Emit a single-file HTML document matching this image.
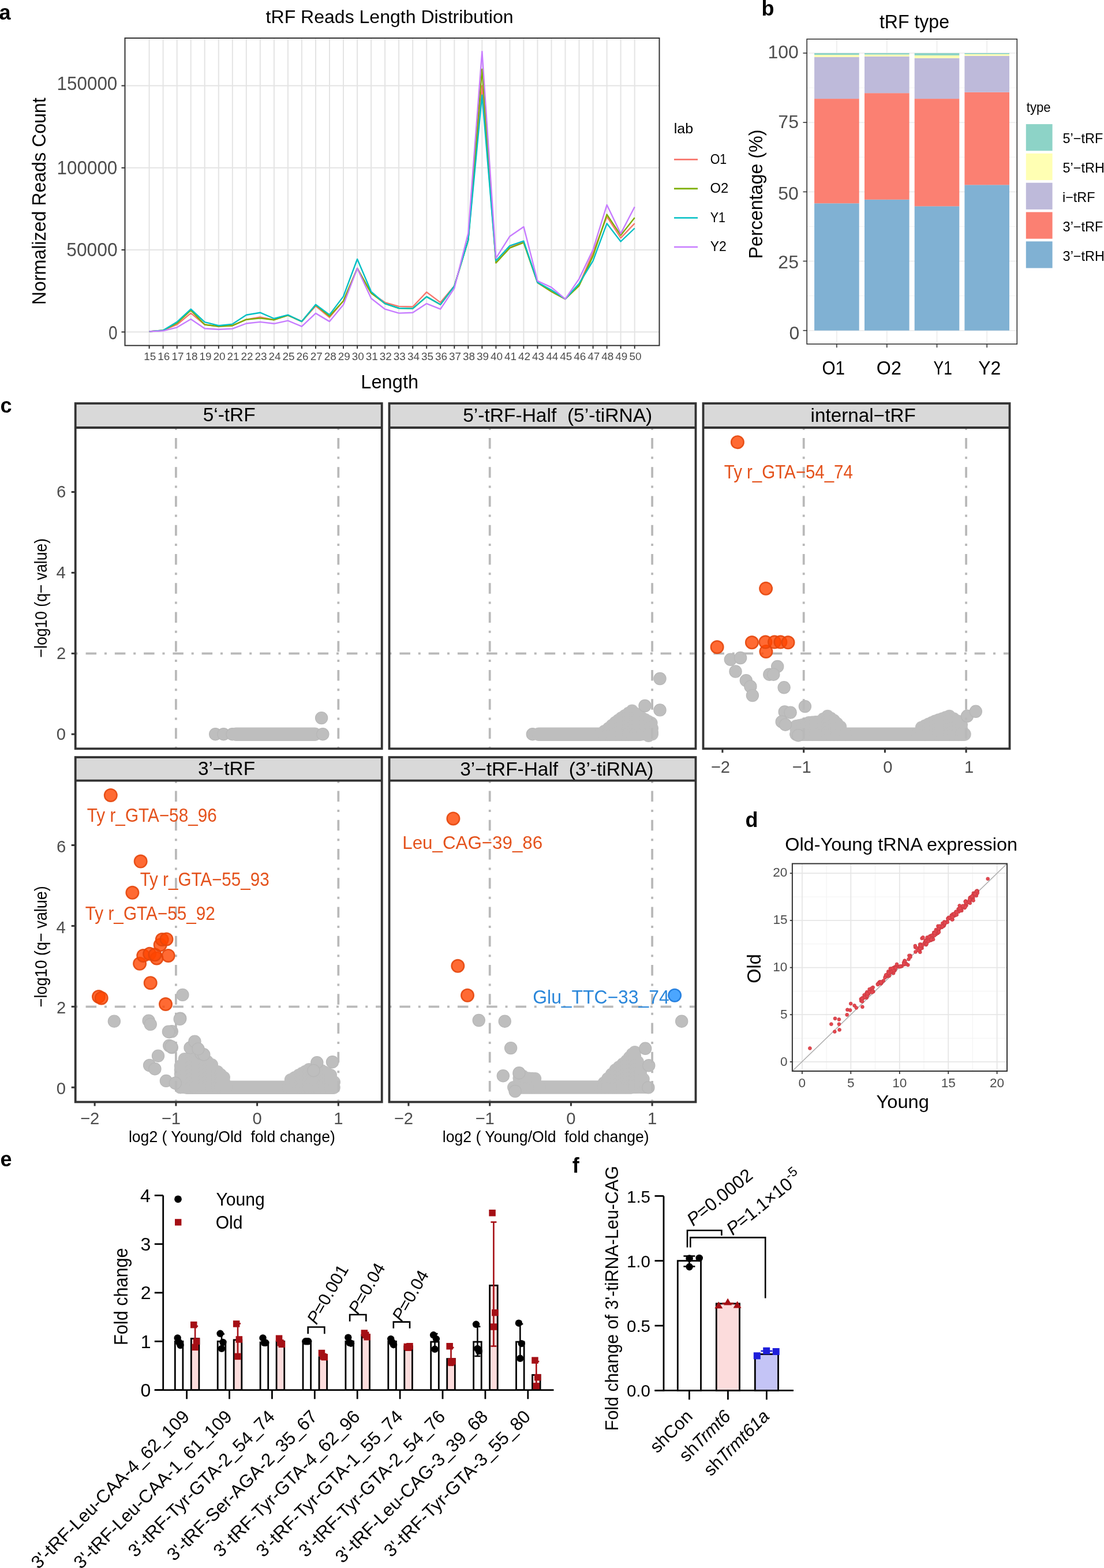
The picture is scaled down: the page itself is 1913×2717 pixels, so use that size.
<!DOCTYPE html>
<html><head><meta charset="utf-8"><title>tRF figure</title>
<style>html,body{margin:0;padding:0;background:#fff;}svg{display:block;}
text{font-family:'Liberation Sans', Arial, Helvetica, sans-serif;white-space:pre;}</style></head>
<body><svg width="1913" height="2717" viewBox="0 0 1913 2717">
<rect width="1913" height="2717" fill="#fff"/>
<g id="pa">
<text x="-1.5" y="33.5" font-size="36" font-weight="bold" >a</text>
<text x="460.62" y="40.10" font-size="31.70" textLength="428.96" lengthAdjust="spacingAndGlyphs">tRF Reads Length Distribution</text>
<line x1="216.5" y1="575.3" x2="1142.5" y2="575.3" stroke="#E4E4E4" stroke-width="2" />
<line x1="216.5" y1="433.0" x2="1142.5" y2="433.0" stroke="#E4E4E4" stroke-width="2" />
<line x1="216.5" y1="290.8" x2="1142.5" y2="290.8" stroke="#E4E4E4" stroke-width="2" />
<line x1="216.5" y1="148.5" x2="1142.5" y2="148.5" stroke="#E4E4E4" stroke-width="2" />
<line x1="258.6" y1="66.0" x2="258.6" y2="598.7" stroke="#E4E4E4" stroke-width="2" />
<line x1="282.6" y1="66.0" x2="282.6" y2="598.7" stroke="#E4E4E4" stroke-width="2" />
<line x1="306.7" y1="66.0" x2="306.7" y2="598.7" stroke="#E4E4E4" stroke-width="2" />
<line x1="330.7" y1="66.0" x2="330.7" y2="598.7" stroke="#E4E4E4" stroke-width="2" />
<line x1="354.7" y1="66.0" x2="354.7" y2="598.7" stroke="#E4E4E4" stroke-width="2" />
<line x1="378.8" y1="66.0" x2="378.8" y2="598.7" stroke="#E4E4E4" stroke-width="2" />
<line x1="402.8" y1="66.0" x2="402.8" y2="598.7" stroke="#E4E4E4" stroke-width="2" />
<line x1="426.8" y1="66.0" x2="426.8" y2="598.7" stroke="#E4E4E4" stroke-width="2" />
<line x1="450.8" y1="66.0" x2="450.8" y2="598.7" stroke="#E4E4E4" stroke-width="2" />
<line x1="474.9" y1="66.0" x2="474.9" y2="598.7" stroke="#E4E4E4" stroke-width="2" />
<line x1="498.9" y1="66.0" x2="498.9" y2="598.7" stroke="#E4E4E4" stroke-width="2" />
<line x1="522.9" y1="66.0" x2="522.9" y2="598.7" stroke="#E4E4E4" stroke-width="2" />
<line x1="547.0" y1="66.0" x2="547.0" y2="598.7" stroke="#E4E4E4" stroke-width="2" />
<line x1="571.0" y1="66.0" x2="571.0" y2="598.7" stroke="#E4E4E4" stroke-width="2" />
<line x1="595.0" y1="66.0" x2="595.0" y2="598.7" stroke="#E4E4E4" stroke-width="2" />
<line x1="619.1" y1="66.0" x2="619.1" y2="598.7" stroke="#E4E4E4" stroke-width="2" />
<line x1="643.1" y1="66.0" x2="643.1" y2="598.7" stroke="#E4E4E4" stroke-width="2" />
<line x1="667.1" y1="66.0" x2="667.1" y2="598.7" stroke="#E4E4E4" stroke-width="2" />
<line x1="691.1" y1="66.0" x2="691.1" y2="598.7" stroke="#E4E4E4" stroke-width="2" />
<line x1="715.2" y1="66.0" x2="715.2" y2="598.7" stroke="#E4E4E4" stroke-width="2" />
<line x1="739.2" y1="66.0" x2="739.2" y2="598.7" stroke="#E4E4E4" stroke-width="2" />
<line x1="763.2" y1="66.0" x2="763.2" y2="598.7" stroke="#E4E4E4" stroke-width="2" />
<line x1="787.3" y1="66.0" x2="787.3" y2="598.7" stroke="#E4E4E4" stroke-width="2" />
<line x1="811.3" y1="66.0" x2="811.3" y2="598.7" stroke="#E4E4E4" stroke-width="2" />
<line x1="835.3" y1="66.0" x2="835.3" y2="598.7" stroke="#E4E4E4" stroke-width="2" />
<line x1="859.4" y1="66.0" x2="859.4" y2="598.7" stroke="#E4E4E4" stroke-width="2" />
<line x1="883.4" y1="66.0" x2="883.4" y2="598.7" stroke="#E4E4E4" stroke-width="2" />
<line x1="907.4" y1="66.0" x2="907.4" y2="598.7" stroke="#E4E4E4" stroke-width="2" />
<line x1="931.4" y1="66.0" x2="931.4" y2="598.7" stroke="#E4E4E4" stroke-width="2" />
<line x1="955.5" y1="66.0" x2="955.5" y2="598.7" stroke="#E4E4E4" stroke-width="2" />
<line x1="979.5" y1="66.0" x2="979.5" y2="598.7" stroke="#E4E4E4" stroke-width="2" />
<line x1="1003.5" y1="66.0" x2="1003.5" y2="598.7" stroke="#E4E4E4" stroke-width="2" />
<line x1="1027.6" y1="66.0" x2="1027.6" y2="598.7" stroke="#E4E4E4" stroke-width="2" />
<line x1="1051.6" y1="66.0" x2="1051.6" y2="598.7" stroke="#E4E4E4" stroke-width="2" />
<line x1="1075.6" y1="66.0" x2="1075.6" y2="598.7" stroke="#E4E4E4" stroke-width="2" />
<line x1="1099.7" y1="66.0" x2="1099.7" y2="598.7" stroke="#E4E4E4" stroke-width="2" />
<polyline points="258.6,574.4 282.6,572.5 306.7,562.5 330.7,542.6 354.7,562.5 378.8,565.6 402.8,564.2 426.8,553.7 450.8,549.4 474.9,554.2 498.9,546.3 522.9,557.1 547.0,530.3 571.0,550.0 595.0,521.5 619.1,464.9 643.1,507.9 667.1,524.1 691.1,530.9 715.2,531.5 739.2,506.2 763.2,524.1 787.3,495.6 811.3,416.0 835.3,148.5 859.4,455.5 883.4,428.5 907.4,419.1 931.4,489.7 955.5,505.3 979.5,518.1 1003.5,493.4 1027.6,437.9 1051.6,375.3 1075.6,412.3 1099.7,387.2" fill="none" stroke="#F8766D" stroke-width="2.4" stroke-linejoin="round" />
<polyline points="258.6,574.4 282.6,572.5 306.7,559.9 330.7,537.7 354.7,562.5 378.8,565.6 402.8,564.2 426.8,553.7 450.8,551.4 474.9,554.2 498.9,546.3 522.9,557.1 547.0,528.4 571.0,547.7 595.0,521.5 619.1,464.9 643.1,507.9 667.1,526.1 691.1,534.0 715.2,534.6 739.2,514.1 763.2,527.8 787.3,495.6 811.3,416.0 835.3,120.0 859.4,455.5 883.4,429.6 907.4,420.5 931.4,489.7 955.5,505.3 979.5,518.1 1003.5,495.1 1027.6,443.6 1051.6,371.6 1075.6,407.7 1099.7,377.3" fill="none" stroke="#7CAE00" stroke-width="2.4" stroke-linejoin="round" />
<polyline points="258.6,574.4 282.6,572.5 306.7,557.9 330.7,535.7 354.7,558.2 378.8,564.2 402.8,561.6 426.8,545.7 450.8,541.7 474.9,552.0 498.9,545.7 522.9,557.1 547.0,527.8 571.0,545.4 595.0,513.6 619.1,449.0 643.1,505.3 667.1,526.1 691.1,534.0 715.2,534.6 739.2,514.1 763.2,527.8 787.3,495.6 811.3,416.0 835.3,164.7 859.4,451.8 883.4,425.9 907.4,417.7 931.4,489.4 955.5,502.5 979.5,518.1 1003.5,491.4 1027.6,451.8 1051.6,387.2 1075.6,418.5 1099.7,395.5" fill="none" stroke="#00BFC4" stroke-width="2.4" stroke-linejoin="round" />
<polyline points="258.6,574.4 282.6,573.3 306.7,567.3 330.7,553.0 354.7,569.3 378.8,570.7 402.8,569.6 426.8,560.5 450.8,557.9 474.9,560.8 498.9,555.7 522.9,565.6 547.0,542.9 571.0,557.1 595.0,528.1 619.1,464.9 643.1,517.0 667.1,535.7 691.1,542.6 715.2,541.7 739.2,526.1 763.2,535.7 787.3,499.3 811.3,404.0 835.3,89.3 859.4,447.3 883.4,409.4 907.4,392.9 931.4,486.8 955.5,497.9 979.5,518.1 1003.5,483.1 1027.6,432.5 1051.6,355.1 1075.6,404.9 1099.7,358.5" fill="none" stroke="#C77CFF" stroke-width="2.4" stroke-linejoin="round" />
<rect x="216.5" y="66.0" width="926.0" height="532.7" fill="none" stroke="#333" stroke-width="2" />
<line x1="210.5" y1="575.3" x2="216.5" y2="575.3" stroke="#333" stroke-width="2" />
<line x1="210.5" y1="433.0" x2="216.5" y2="433.0" stroke="#333" stroke-width="2" />
<line x1="210.5" y1="290.8" x2="216.5" y2="290.8" stroke="#333" stroke-width="2" />
<line x1="210.5" y1="148.5" x2="216.5" y2="148.5" stroke="#333" stroke-width="2" />
<text x="98.51" y="156.30" font-size="32.50" textLength="104.82" lengthAdjust="spacingAndGlyphs" fill="#4D4D4D">150000</text>
<text x="98.51" y="302.30" font-size="32.50" textLength="104.82" lengthAdjust="spacingAndGlyphs" fill="#4D4D4D">100000</text>
<text x="115.23" y="443.90" font-size="32.50" textLength="88.42" lengthAdjust="spacingAndGlyphs" fill="#4D4D4D">50000</text>
<text x="187.91" y="587.70" font-size="32.50" textLength="15.59" lengthAdjust="spacingAndGlyphs" fill="#4D4D4D">0</text>
<line x1="258.6" y1="598.7" x2="258.6" y2="604.2" stroke="#333" stroke-width="2" />
<text x="259.8" y="623.6" font-size="18.9" text-anchor="middle" fill="#4D4D4D" >15</text>
<line x1="282.6" y1="598.7" x2="282.6" y2="604.2" stroke="#333" stroke-width="2" />
<text x="283.8" y="623.6" font-size="18.9" text-anchor="middle" fill="#4D4D4D" >16</text>
<line x1="306.7" y1="598.7" x2="306.7" y2="604.2" stroke="#333" stroke-width="2" />
<text x="307.9" y="623.6" font-size="18.9" text-anchor="middle" fill="#4D4D4D" >17</text>
<line x1="330.7" y1="598.7" x2="330.7" y2="604.2" stroke="#333" stroke-width="2" />
<text x="331.9" y="623.6" font-size="18.9" text-anchor="middle" fill="#4D4D4D" >18</text>
<line x1="354.7" y1="598.7" x2="354.7" y2="604.2" stroke="#333" stroke-width="2" />
<text x="355.9" y="623.6" font-size="18.9" text-anchor="middle" fill="#4D4D4D" >19</text>
<line x1="378.8" y1="598.7" x2="378.8" y2="604.2" stroke="#333" stroke-width="2" />
<text x="379.9" y="623.6" font-size="18.9" text-anchor="middle" fill="#4D4D4D" >20</text>
<line x1="402.8" y1="598.7" x2="402.8" y2="604.2" stroke="#333" stroke-width="2" />
<text x="404.0" y="623.6" font-size="18.9" text-anchor="middle" fill="#4D4D4D" >21</text>
<line x1="426.8" y1="598.7" x2="426.8" y2="604.2" stroke="#333" stroke-width="2" />
<text x="428.0" y="623.6" font-size="18.9" text-anchor="middle" fill="#4D4D4D" >22</text>
<line x1="450.8" y1="598.7" x2="450.8" y2="604.2" stroke="#333" stroke-width="2" />
<text x="452.0" y="623.6" font-size="18.9" text-anchor="middle" fill="#4D4D4D" >23</text>
<line x1="474.9" y1="598.7" x2="474.9" y2="604.2" stroke="#333" stroke-width="2" />
<text x="476.1" y="623.6" font-size="18.9" text-anchor="middle" fill="#4D4D4D" >24</text>
<line x1="498.9" y1="598.7" x2="498.9" y2="604.2" stroke="#333" stroke-width="2" />
<text x="500.1" y="623.6" font-size="18.9" text-anchor="middle" fill="#4D4D4D" >25</text>
<line x1="522.9" y1="598.7" x2="522.9" y2="604.2" stroke="#333" stroke-width="2" />
<text x="524.1" y="623.6" font-size="18.9" text-anchor="middle" fill="#4D4D4D" >26</text>
<line x1="547.0" y1="598.7" x2="547.0" y2="604.2" stroke="#333" stroke-width="2" />
<text x="548.2" y="623.6" font-size="18.9" text-anchor="middle" fill="#4D4D4D" >27</text>
<line x1="571.0" y1="598.7" x2="571.0" y2="604.2" stroke="#333" stroke-width="2" />
<text x="572.2" y="623.6" font-size="18.9" text-anchor="middle" fill="#4D4D4D" >28</text>
<line x1="595.0" y1="598.7" x2="595.0" y2="604.2" stroke="#333" stroke-width="2" />
<text x="596.2" y="623.6" font-size="18.9" text-anchor="middle" fill="#4D4D4D" >29</text>
<line x1="619.1" y1="598.7" x2="619.1" y2="604.2" stroke="#333" stroke-width="2" />
<text x="620.3" y="623.6" font-size="18.9" text-anchor="middle" fill="#4D4D4D" >30</text>
<line x1="643.1" y1="598.7" x2="643.1" y2="604.2" stroke="#333" stroke-width="2" />
<text x="644.3" y="623.6" font-size="18.9" text-anchor="middle" fill="#4D4D4D" >31</text>
<line x1="667.1" y1="598.7" x2="667.1" y2="604.2" stroke="#333" stroke-width="2" />
<text x="668.3" y="623.6" font-size="18.9" text-anchor="middle" fill="#4D4D4D" >32</text>
<line x1="691.1" y1="598.7" x2="691.1" y2="604.2" stroke="#333" stroke-width="2" />
<text x="692.3" y="623.6" font-size="18.9" text-anchor="middle" fill="#4D4D4D" >33</text>
<line x1="715.2" y1="598.7" x2="715.2" y2="604.2" stroke="#333" stroke-width="2" />
<text x="716.4" y="623.6" font-size="18.9" text-anchor="middle" fill="#4D4D4D" >34</text>
<line x1="739.2" y1="598.7" x2="739.2" y2="604.2" stroke="#333" stroke-width="2" />
<text x="740.4" y="623.6" font-size="18.9" text-anchor="middle" fill="#4D4D4D" >35</text>
<line x1="763.2" y1="598.7" x2="763.2" y2="604.2" stroke="#333" stroke-width="2" />
<text x="764.4" y="623.6" font-size="18.9" text-anchor="middle" fill="#4D4D4D" >36</text>
<line x1="787.3" y1="598.7" x2="787.3" y2="604.2" stroke="#333" stroke-width="2" />
<text x="788.5" y="623.6" font-size="18.9" text-anchor="middle" fill="#4D4D4D" >37</text>
<line x1="811.3" y1="598.7" x2="811.3" y2="604.2" stroke="#333" stroke-width="2" />
<text x="812.5" y="623.6" font-size="18.9" text-anchor="middle" fill="#4D4D4D" >38</text>
<line x1="835.3" y1="598.7" x2="835.3" y2="604.2" stroke="#333" stroke-width="2" />
<text x="836.5" y="623.6" font-size="18.9" text-anchor="middle" fill="#4D4D4D" >39</text>
<line x1="859.4" y1="598.7" x2="859.4" y2="604.2" stroke="#333" stroke-width="2" />
<text x="860.6" y="623.6" font-size="18.9" text-anchor="middle" fill="#4D4D4D" >40</text>
<line x1="883.4" y1="598.7" x2="883.4" y2="604.2" stroke="#333" stroke-width="2" />
<text x="884.6" y="623.6" font-size="18.9" text-anchor="middle" fill="#4D4D4D" >41</text>
<line x1="907.4" y1="598.7" x2="907.4" y2="604.2" stroke="#333" stroke-width="2" />
<text x="908.6" y="623.6" font-size="18.9" text-anchor="middle" fill="#4D4D4D" >42</text>
<line x1="931.4" y1="598.7" x2="931.4" y2="604.2" stroke="#333" stroke-width="2" />
<text x="932.6" y="623.6" font-size="18.9" text-anchor="middle" fill="#4D4D4D" >43</text>
<line x1="955.5" y1="598.7" x2="955.5" y2="604.2" stroke="#333" stroke-width="2" />
<text x="956.7" y="623.6" font-size="18.9" text-anchor="middle" fill="#4D4D4D" >44</text>
<line x1="979.5" y1="598.7" x2="979.5" y2="604.2" stroke="#333" stroke-width="2" />
<text x="980.7" y="623.6" font-size="18.9" text-anchor="middle" fill="#4D4D4D" >45</text>
<line x1="1003.5" y1="598.7" x2="1003.5" y2="604.2" stroke="#333" stroke-width="2" />
<text x="1004.7" y="623.6" font-size="18.9" text-anchor="middle" fill="#4D4D4D" >46</text>
<line x1="1027.6" y1="598.7" x2="1027.6" y2="604.2" stroke="#333" stroke-width="2" />
<text x="1028.8" y="623.6" font-size="18.9" text-anchor="middle" fill="#4D4D4D" >47</text>
<line x1="1051.6" y1="598.7" x2="1051.6" y2="604.2" stroke="#333" stroke-width="2" />
<text x="1052.8" y="623.6" font-size="18.9" text-anchor="middle" fill="#4D4D4D" >48</text>
<line x1="1075.6" y1="598.7" x2="1075.6" y2="604.2" stroke="#333" stroke-width="2" />
<text x="1076.8" y="623.6" font-size="18.9" text-anchor="middle" fill="#4D4D4D" >49</text>
<line x1="1099.7" y1="598.7" x2="1099.7" y2="604.2" stroke="#333" stroke-width="2" />
<text x="1100.9" y="623.6" font-size="18.9" text-anchor="middle" fill="#4D4D4D" >50</text>
<text x="625.32" y="673.30" font-size="32.40" textLength="99.80" lengthAdjust="spacingAndGlyphs">Length</text>
<text transform="translate(79.20,528.13) rotate(-90)" font-size="34.00" textLength="358.77" lengthAdjust="spacingAndGlyphs">Normalized Reads Count</text>
<text x="1167.72" y="231.40" font-size="23.30" textLength="33.33" lengthAdjust="spacingAndGlyphs">lab</text>
<line x1="1168.0" y1="276.4" x2="1209.0" y2="276.4" stroke="#F8766D" stroke-width="2.6" />
<text x="1230.69" y="283.70" font-size="24.00" textLength="28.56" lengthAdjust="spacingAndGlyphs">O1</text>
<line x1="1168.0" y1="326.9" x2="1209.0" y2="326.9" stroke="#7CAE00" stroke-width="2.6" />
<text x="1230.57" y="334.25" font-size="24.00" textLength="31.83" lengthAdjust="spacingAndGlyphs">O2</text>
<line x1="1168.0" y1="377.5" x2="1209.0" y2="377.5" stroke="#00BFC4" stroke-width="2.6" />
<text x="1230.73" y="384.80" font-size="24.00" textLength="26.22" lengthAdjust="spacingAndGlyphs">Y1</text>
<line x1="1168.0" y1="428.0" x2="1209.0" y2="428.0" stroke="#C77CFF" stroke-width="2.6" />
<text x="1230.70" y="435.35" font-size="24.00" textLength="28.06" lengthAdjust="spacingAndGlyphs">Y2</text>
</g>
<g id="pb">
<text x="1319.5" y="26.5" font-size="36" font-weight="bold" >b</text>
<text x="1523.91" y="48.60" font-size="32.40" textLength="121.11" lengthAdjust="spacingAndGlyphs">tRF type</text>
<line x1="1398.2" y1="572.7" x2="1762.3" y2="572.7" stroke="#EBEBEB" stroke-width="1.6" />
<line x1="1398.2" y1="452.5" x2="1762.3" y2="452.5" stroke="#EBEBEB" stroke-width="1.6" />
<line x1="1398.2" y1="332.4" x2="1762.3" y2="332.4" stroke="#EBEBEB" stroke-width="1.6" />
<line x1="1398.2" y1="212.2" x2="1762.3" y2="212.2" stroke="#EBEBEB" stroke-width="1.6" />
<line x1="1398.2" y1="92.0" x2="1762.3" y2="92.0" stroke="#EBEBEB" stroke-width="1.6" />
<line x1="1398.2" y1="512.6" x2="1762.3" y2="512.6" stroke="#F3F3F3" stroke-width="1.0" />
<line x1="1398.2" y1="392.4" x2="1762.3" y2="392.4" stroke="#F3F3F3" stroke-width="1.0" />
<line x1="1398.2" y1="272.3" x2="1762.3" y2="272.3" stroke="#F3F3F3" stroke-width="1.0" />
<line x1="1398.2" y1="152.1" x2="1762.3" y2="152.1" stroke="#F3F3F3" stroke-width="1.0" />
<line x1="1449.9" y1="67.7" x2="1449.9" y2="596.2" stroke="#EBEBEB" stroke-width="1.6" />
<line x1="1536.8" y1="67.7" x2="1536.8" y2="596.2" stroke="#EBEBEB" stroke-width="1.6" />
<line x1="1623.5" y1="67.7" x2="1623.5" y2="596.2" stroke="#EBEBEB" stroke-width="1.6" />
<line x1="1710.2" y1="67.7" x2="1710.2" y2="596.2" stroke="#EBEBEB" stroke-width="1.6" />
<rect x="1411.1" y="352.3" width="77.6" height="220.4" fill="#80B1D3" stroke="none" stroke-width="0" />
<rect x="1411.1" y="171.1" width="77.6" height="181.2" fill="#FB8072" stroke="none" stroke-width="0" />
<rect x="1411.1" y="98.9" width="77.6" height="72.2" fill="#BEBADA" stroke="none" stroke-width="0" />
<rect x="1411.1" y="95.1" width="77.6" height="3.7" fill="#FFFFB3" stroke="none" stroke-width="0" />
<rect x="1411.1" y="92.0" width="77.6" height="3.1" fill="#8DD3C7" stroke="none" stroke-width="0" />
<rect x="1498.0" y="345.8" width="77.6" height="226.9" fill="#80B1D3" stroke="none" stroke-width="0" />
<rect x="1498.0" y="161.2" width="77.6" height="184.6" fill="#FB8072" stroke="none" stroke-width="0" />
<rect x="1498.0" y="97.8" width="77.6" height="63.5" fill="#BEBADA" stroke="none" stroke-width="0" />
<rect x="1498.0" y="94.5" width="77.6" height="3.3" fill="#FFFFB3" stroke="none" stroke-width="0" />
<rect x="1498.0" y="92.0" width="77.6" height="2.5" fill="#8DD3C7" stroke="none" stroke-width="0" />
<rect x="1584.7" y="357.3" width="77.6" height="215.4" fill="#80B1D3" stroke="none" stroke-width="0" />
<rect x="1584.7" y="171.1" width="77.6" height="186.3" fill="#FB8072" stroke="none" stroke-width="0" />
<rect x="1584.7" y="100.7" width="77.6" height="70.4" fill="#BEBADA" stroke="none" stroke-width="0" />
<rect x="1584.7" y="96.0" width="77.6" height="4.7" fill="#FFFFB3" stroke="none" stroke-width="0" />
<rect x="1584.7" y="92.0" width="77.6" height="4.0" fill="#8DD3C7" stroke="none" stroke-width="0" />
<rect x="1671.4" y="320.3" width="77.6" height="252.4" fill="#80B1D3" stroke="none" stroke-width="0" />
<rect x="1671.4" y="159.8" width="77.6" height="160.6" fill="#FB8072" stroke="none" stroke-width="0" />
<rect x="1671.4" y="96.7" width="77.6" height="63.1" fill="#BEBADA" stroke="none" stroke-width="0" />
<rect x="1671.4" y="93.8" width="77.6" height="2.9" fill="#FFFFB3" stroke="none" stroke-width="0" />
<rect x="1671.4" y="92.0" width="77.6" height="1.8" fill="#8DD3C7" stroke="none" stroke-width="0" />
<rect x="1398.2" y="67.7" width="364.1" height="528.5" fill="none" stroke="#333" stroke-width="1.6" />
<line x1="1391.5" y1="572.7" x2="1398.2" y2="572.7" stroke="#333" stroke-width="1.6" />
<text x="1367.45" y="587.90" font-size="32.00" textLength="17.80" lengthAdjust="spacingAndGlyphs" fill="#4D4D4D">0</text>
<line x1="1391.5" y1="452.5" x2="1398.2" y2="452.5" stroke="#333" stroke-width="1.6" />
<text x="1348.35" y="464.70" font-size="32.00" textLength="35.59" lengthAdjust="spacingAndGlyphs" fill="#4D4D4D">25</text>
<line x1="1391.5" y1="332.4" x2="1398.2" y2="332.4" stroke="#333" stroke-width="1.6" />
<text x="1348.26" y="345.50" font-size="32.00" textLength="35.59" lengthAdjust="spacingAndGlyphs" fill="#4D4D4D">50</text>
<line x1="1391.5" y1="212.2" x2="1398.2" y2="212.2" stroke="#333" stroke-width="1.6" />
<text x="1348.35" y="222.40" font-size="32.00" textLength="35.59" lengthAdjust="spacingAndGlyphs" fill="#4D4D4D">75</text>
<line x1="1391.5" y1="92.0" x2="1398.2" y2="92.0" stroke="#333" stroke-width="1.6" />
<text x="1330.46" y="101.00" font-size="32.00" textLength="53.39" lengthAdjust="spacingAndGlyphs" fill="#4D4D4D">100</text>
<line x1="1449.9" y1="596.2" x2="1449.9" y2="602.2" stroke="#333" stroke-width="1.6" />
<line x1="1536.8" y1="596.2" x2="1536.8" y2="602.2" stroke="#333" stroke-width="1.6" />
<line x1="1623.5" y1="596.2" x2="1623.5" y2="602.2" stroke="#333" stroke-width="1.6" />
<line x1="1710.2" y1="596.2" x2="1710.2" y2="602.2" stroke="#333" stroke-width="1.6" />
<text x="1424.39" y="648.90" font-size="33.60" textLength="39.66" lengthAdjust="spacingAndGlyphs">O1</text>
<text x="1518.87" y="648.90" font-size="33.60" textLength="43.05" lengthAdjust="spacingAndGlyphs">O2</text>
<text x="1617.62" y="648.90" font-size="33.60" textLength="32.27" lengthAdjust="spacingAndGlyphs">Y1</text>
<text x="1695.30" y="648.90" font-size="33.60" textLength="39.11" lengthAdjust="spacingAndGlyphs">Y2</text>
<text transform="translate(1320.60,448.55) rotate(-90)" font-size="33.40" textLength="224.04" lengthAdjust="spacingAndGlyphs">Percentage (%)</text>
<text x="1778.87" y="193.50" font-size="23.50" textLength="41.82" lengthAdjust="spacingAndGlyphs">type</text>
<rect x="1777.8" y="215.1" width="45.8" height="46.2" fill="#8DD3C7" stroke="none" stroke-width="0" />
<text x="1841.56" y="248.40" font-size="23.70" textLength="69.76" lengthAdjust="spacingAndGlyphs">5’−tRF</text>
<rect x="1777.8" y="265.9" width="45.8" height="46.2" fill="#FFFFB3" stroke="none" stroke-width="0" />
<text x="1841.56" y="299.40" font-size="23.70" textLength="72.37" lengthAdjust="spacingAndGlyphs">5’−tRH</text>
<rect x="1777.8" y="316.7" width="45.8" height="46.2" fill="#BEBADA" stroke="none" stroke-width="0" />
<text x="1840.93" y="350.40" font-size="23.70" textLength="56.71" lengthAdjust="spacingAndGlyphs">i−tRF</text>
<rect x="1777.8" y="367.5" width="45.8" height="46.2" fill="#FB8072" stroke="none" stroke-width="0" />
<text x="1841.61" y="401.40" font-size="23.70" textLength="69.76" lengthAdjust="spacingAndGlyphs">3’−tRF</text>
<rect x="1777.8" y="418.3" width="45.8" height="46.2" fill="#80B1D3" stroke="none" stroke-width="0" />
<text x="1841.61" y="452.40" font-size="23.70" textLength="72.37" lengthAdjust="spacingAndGlyphs">3’−tRH</text>
</g>
<g id="pc">
<text x="0.5" y="714.5" font-size="36" font-weight="bold" >c</text>
<circle cx="373.2" cy="1272.2" r="10.6" fill="#BEBEBE" stroke="#B7B7B7" stroke-width="1.2" />
<circle cx="387.4" cy="1272.2" r="10.6" fill="#BEBEBE" stroke="#B7B7B7" stroke-width="1.2" />
<circle cx="402.6" cy="1272.2" r="10.6" fill="#BEBEBE" stroke="#B7B7B7" stroke-width="1.2" />
<line x1="409.0" y1="1272.2" x2="545.5" y2="1272.2" stroke="#BEBEBE" stroke-width="23.5" stroke-linecap="round"/>
<circle cx="559.3" cy="1272.2" r="10.6" fill="#BEBEBE" stroke="#B7B7B7" stroke-width="1.2" />
<circle cx="557.1" cy="1244.1" r="10.6" fill="#BEBEBE" stroke="#B7B7B7" stroke-width="1.2" />
<line x1="304.9" y1="741.0" x2="304.9" y2="1295.4" stroke="#B9B9B9" stroke-width="3.8" stroke-dasharray="4 13.9 18.5 13.85"/>
<line x1="586.3" y1="741.0" x2="586.3" y2="1295.4" stroke="#B9B9B9" stroke-width="3.8" stroke-dasharray="4 13.9 18.5 13.85"/>
<line x1="130.7" y1="1132.3" x2="659.8" y2="1132.3" stroke="#B9B9B9" stroke-width="3.8" stroke-dasharray="4 13.9 18.5 13.85"/>
<rect x="130.7" y="699.0" width="531.0" height="42.0" fill="#D9D9D9" stroke="none" stroke-width="0" />
<rect x="130.7" y="699.0" width="531.0" height="598.3" fill="none" stroke="#333" stroke-width="3.8" />
<line x1="130.7" y1="741.0" x2="661.7" y2="741.0" stroke="#333" stroke-width="3.8" />
<text x="351.66" y="730.40" font-size="32.30" textLength="90.98" lengthAdjust="spacingAndGlyphs">5‘-tRF</text>
<circle cx="922.8" cy="1272.2" r="10.6" fill="#BEBEBE" stroke="#B7B7B7" stroke-width="1.2" />
<line x1="933.6" y1="1272.2" x2="1109.0" y2="1272.2" stroke="#BEBEBE" stroke-width="23.5" stroke-linecap="round"/>
<circle cx="1040.0" cy="1272.2" r="11.0" fill="#BEBEBE" stroke="none" stroke-width="0" />
<circle cx="1047.2" cy="1267.1" r="11.0" fill="#BEBEBE" stroke="none" stroke-width="0" />
<circle cx="1047.2" cy="1272.2" r="11.0" fill="#BEBEBE" stroke="none" stroke-width="0" />
<circle cx="1054.4" cy="1262.0" r="11.0" fill="#BEBEBE" stroke="none" stroke-width="0" />
<circle cx="1054.4" cy="1269.0" r="11.0" fill="#BEBEBE" stroke="none" stroke-width="0" />
<circle cx="1054.4" cy="1272.2" r="11.0" fill="#BEBEBE" stroke="none" stroke-width="0" />
<circle cx="1060.2" cy="1257.0" r="11.0" fill="#BEBEBE" stroke="none" stroke-width="0" />
<circle cx="1060.2" cy="1264.0" r="11.0" fill="#BEBEBE" stroke="none" stroke-width="0" />
<circle cx="1060.2" cy="1271.0" r="11.0" fill="#BEBEBE" stroke="none" stroke-width="0" />
<circle cx="1060.2" cy="1272.2" r="11.0" fill="#BEBEBE" stroke="none" stroke-width="0" />
<circle cx="1066.0" cy="1252.0" r="11.0" fill="#BEBEBE" stroke="none" stroke-width="0" />
<circle cx="1066.0" cy="1259.0" r="11.0" fill="#BEBEBE" stroke="none" stroke-width="0" />
<circle cx="1066.0" cy="1266.0" r="11.0" fill="#BEBEBE" stroke="none" stroke-width="0" />
<circle cx="1066.0" cy="1272.2" r="11.0" fill="#BEBEBE" stroke="none" stroke-width="0" />
<circle cx="1071.3" cy="1248.0" r="11.0" fill="#BEBEBE" stroke="none" stroke-width="0" />
<circle cx="1071.3" cy="1255.0" r="11.0" fill="#BEBEBE" stroke="none" stroke-width="0" />
<circle cx="1071.3" cy="1262.0" r="11.0" fill="#BEBEBE" stroke="none" stroke-width="0" />
<circle cx="1071.3" cy="1269.0" r="11.0" fill="#BEBEBE" stroke="none" stroke-width="0" />
<circle cx="1071.3" cy="1272.2" r="11.0" fill="#BEBEBE" stroke="none" stroke-width="0" />
<circle cx="1076.7" cy="1244.0" r="11.0" fill="#BEBEBE" stroke="none" stroke-width="0" />
<circle cx="1076.7" cy="1251.0" r="11.0" fill="#BEBEBE" stroke="none" stroke-width="0" />
<circle cx="1076.7" cy="1258.0" r="11.0" fill="#BEBEBE" stroke="none" stroke-width="0" />
<circle cx="1076.7" cy="1265.0" r="11.0" fill="#BEBEBE" stroke="none" stroke-width="0" />
<circle cx="1076.7" cy="1272.0" r="11.0" fill="#BEBEBE" stroke="none" stroke-width="0" />
<circle cx="1076.7" cy="1272.2" r="11.0" fill="#BEBEBE" stroke="none" stroke-width="0" />
<circle cx="1082.9" cy="1239.9" r="11.0" fill="#BEBEBE" stroke="none" stroke-width="0" />
<circle cx="1082.9" cy="1246.9" r="11.0" fill="#BEBEBE" stroke="none" stroke-width="0" />
<circle cx="1082.9" cy="1253.9" r="11.0" fill="#BEBEBE" stroke="none" stroke-width="0" />
<circle cx="1082.9" cy="1260.9" r="11.0" fill="#BEBEBE" stroke="none" stroke-width="0" />
<circle cx="1082.9" cy="1267.9" r="11.0" fill="#BEBEBE" stroke="none" stroke-width="0" />
<circle cx="1082.9" cy="1272.2" r="11.0" fill="#BEBEBE" stroke="none" stroke-width="0" />
<circle cx="1089.0" cy="1235.7" r="11.0" fill="#BEBEBE" stroke="none" stroke-width="0" />
<circle cx="1089.0" cy="1242.7" r="11.0" fill="#BEBEBE" stroke="none" stroke-width="0" />
<circle cx="1089.0" cy="1249.7" r="11.0" fill="#BEBEBE" stroke="none" stroke-width="0" />
<circle cx="1089.0" cy="1256.7" r="11.0" fill="#BEBEBE" stroke="none" stroke-width="0" />
<circle cx="1089.0" cy="1263.7" r="11.0" fill="#BEBEBE" stroke="none" stroke-width="0" />
<circle cx="1089.0" cy="1270.7" r="11.0" fill="#BEBEBE" stroke="none" stroke-width="0" />
<circle cx="1089.0" cy="1272.2" r="11.0" fill="#BEBEBE" stroke="none" stroke-width="0" />
<circle cx="1095.2" cy="1231.6" r="11.0" fill="#BEBEBE" stroke="none" stroke-width="0" />
<circle cx="1095.2" cy="1238.6" r="11.0" fill="#BEBEBE" stroke="none" stroke-width="0" />
<circle cx="1095.2" cy="1245.6" r="11.0" fill="#BEBEBE" stroke="none" stroke-width="0" />
<circle cx="1095.2" cy="1252.6" r="11.0" fill="#BEBEBE" stroke="none" stroke-width="0" />
<circle cx="1095.2" cy="1259.6" r="11.0" fill="#BEBEBE" stroke="none" stroke-width="0" />
<circle cx="1095.2" cy="1266.6" r="11.0" fill="#BEBEBE" stroke="none" stroke-width="0" />
<circle cx="1095.2" cy="1272.2" r="11.0" fill="#BEBEBE" stroke="none" stroke-width="0" />
<circle cx="1101.4" cy="1236.5" r="11.0" fill="#BEBEBE" stroke="none" stroke-width="0" />
<circle cx="1101.4" cy="1243.5" r="11.0" fill="#BEBEBE" stroke="none" stroke-width="0" />
<circle cx="1101.4" cy="1250.5" r="11.0" fill="#BEBEBE" stroke="none" stroke-width="0" />
<circle cx="1101.4" cy="1257.5" r="11.0" fill="#BEBEBE" stroke="none" stroke-width="0" />
<circle cx="1101.4" cy="1264.5" r="11.0" fill="#BEBEBE" stroke="none" stroke-width="0" />
<circle cx="1101.4" cy="1271.5" r="11.0" fill="#BEBEBE" stroke="none" stroke-width="0" />
<circle cx="1101.4" cy="1272.2" r="11.0" fill="#BEBEBE" stroke="none" stroke-width="0" />
<circle cx="1107.6" cy="1241.5" r="11.0" fill="#BEBEBE" stroke="none" stroke-width="0" />
<circle cx="1107.6" cy="1248.5" r="11.0" fill="#BEBEBE" stroke="none" stroke-width="0" />
<circle cx="1107.6" cy="1255.5" r="11.0" fill="#BEBEBE" stroke="none" stroke-width="0" />
<circle cx="1107.6" cy="1262.5" r="11.0" fill="#BEBEBE" stroke="none" stroke-width="0" />
<circle cx="1107.6" cy="1269.5" r="11.0" fill="#BEBEBE" stroke="none" stroke-width="0" />
<circle cx="1107.6" cy="1272.2" r="11.0" fill="#BEBEBE" stroke="none" stroke-width="0" />
<circle cx="1112.8" cy="1244.3" r="11.0" fill="#BEBEBE" stroke="none" stroke-width="0" />
<circle cx="1112.8" cy="1251.3" r="11.0" fill="#BEBEBE" stroke="none" stroke-width="0" />
<circle cx="1112.8" cy="1258.3" r="11.0" fill="#BEBEBE" stroke="none" stroke-width="0" />
<circle cx="1112.8" cy="1265.3" r="11.0" fill="#BEBEBE" stroke="none" stroke-width="0" />
<circle cx="1112.8" cy="1272.2" r="11.0" fill="#BEBEBE" stroke="none" stroke-width="0" />
<circle cx="1118.1" cy="1247.1" r="11.0" fill="#BEBEBE" stroke="none" stroke-width="0" />
<circle cx="1118.1" cy="1254.1" r="11.0" fill="#BEBEBE" stroke="none" stroke-width="0" />
<circle cx="1118.1" cy="1261.1" r="11.0" fill="#BEBEBE" stroke="none" stroke-width="0" />
<circle cx="1118.1" cy="1268.1" r="11.0" fill="#BEBEBE" stroke="none" stroke-width="0" />
<circle cx="1118.1" cy="1272.2" r="11.0" fill="#BEBEBE" stroke="none" stroke-width="0" />
<circle cx="1123.3" cy="1249.9" r="11.0" fill="#BEBEBE" stroke="none" stroke-width="0" />
<circle cx="1123.3" cy="1256.9" r="11.0" fill="#BEBEBE" stroke="none" stroke-width="0" />
<circle cx="1123.3" cy="1263.9" r="11.0" fill="#BEBEBE" stroke="none" stroke-width="0" />
<circle cx="1123.3" cy="1270.9" r="11.0" fill="#BEBEBE" stroke="none" stroke-width="0" />
<circle cx="1123.3" cy="1272.2" r="11.0" fill="#BEBEBE" stroke="none" stroke-width="0" />
<circle cx="1128.6" cy="1252.7" r="11.0" fill="#BEBEBE" stroke="none" stroke-width="0" />
<circle cx="1128.6" cy="1259.7" r="11.0" fill="#BEBEBE" stroke="none" stroke-width="0" />
<circle cx="1128.6" cy="1266.7" r="11.0" fill="#BEBEBE" stroke="none" stroke-width="0" />
<circle cx="1128.6" cy="1272.2" r="11.0" fill="#BEBEBE" stroke="none" stroke-width="0" />
<circle cx="1130.0" cy="1262.0" r="11.0" fill="#BEBEBE" stroke="none" stroke-width="0" />
<circle cx="1130.0" cy="1269.0" r="11.0" fill="#BEBEBE" stroke="none" stroke-width="0" />
<circle cx="1130.0" cy="1272.2" r="11.0" fill="#BEBEBE" stroke="none" stroke-width="0" />
<circle cx="1123.7" cy="1274.9" r="11.0" fill="#BEBEBE" stroke="none" stroke-width="0" />
<circle cx="1117.5" cy="1223.0" r="10.6" fill="#BEBEBE" stroke="#B7B7B7" stroke-width="1.2" />
<circle cx="1143.5" cy="1230.4" r="10.6" fill="#BEBEBE" stroke="#B7B7B7" stroke-width="1.2" />
<circle cx="1143.5" cy="1176.0" r="10.6" fill="#BEBEBE" stroke="#B7B7B7" stroke-width="1.2" />
<line x1="848.7" y1="741.0" x2="848.7" y2="1295.4" stroke="#B9B9B9" stroke-width="3.8" stroke-dasharray="4 13.9 18.5 13.85"/>
<line x1="1130.1" y1="741.0" x2="1130.1" y2="1295.4" stroke="#B9B9B9" stroke-width="3.8" stroke-dasharray="4 13.9 18.5 13.85"/>
<line x1="674.5" y1="1132.3" x2="1203.6" y2="1132.3" stroke="#B9B9B9" stroke-width="3.8" stroke-dasharray="4 13.9 18.5 13.85"/>
<rect x="674.5" y="699.0" width="531.0" height="42.0" fill="#D9D9D9" stroke="none" stroke-width="0" />
<rect x="674.5" y="699.0" width="531.0" height="598.3" fill="none" stroke="#333" stroke-width="3.8" />
<line x1="674.5" y1="741.0" x2="1205.5" y2="741.0" stroke="#333" stroke-width="3.8" />
<text x="802.16" y="730.80" font-size="32.30" textLength="328.02" lengthAdjust="spacingAndGlyphs">5’-tRF-Half  (5’-tiRNA)</text>
<line x1="1380.0" y1="1272.2" x2="1671.0" y2="1272.2" stroke="#BEBEBE" stroke-width="23.5" stroke-linecap="round"/>
<circle cx="1379.5" cy="1258.0" r="11.0" fill="#BEBEBE" stroke="none" stroke-width="0" />
<circle cx="1379.5" cy="1265.0" r="11.0" fill="#BEBEBE" stroke="none" stroke-width="0" />
<circle cx="1379.5" cy="1272.0" r="11.0" fill="#BEBEBE" stroke="none" stroke-width="0" />
<circle cx="1379.5" cy="1272.2" r="11.0" fill="#BEBEBE" stroke="none" stroke-width="0" />
<circle cx="1384.8" cy="1257.0" r="11.0" fill="#BEBEBE" stroke="none" stroke-width="0" />
<circle cx="1384.8" cy="1264.0" r="11.0" fill="#BEBEBE" stroke="none" stroke-width="0" />
<circle cx="1384.8" cy="1271.0" r="11.0" fill="#BEBEBE" stroke="none" stroke-width="0" />
<circle cx="1384.8" cy="1272.2" r="11.0" fill="#BEBEBE" stroke="none" stroke-width="0" />
<circle cx="1390.0" cy="1256.0" r="11.0" fill="#BEBEBE" stroke="none" stroke-width="0" />
<circle cx="1390.0" cy="1263.0" r="11.0" fill="#BEBEBE" stroke="none" stroke-width="0" />
<circle cx="1390.0" cy="1270.0" r="11.0" fill="#BEBEBE" stroke="none" stroke-width="0" />
<circle cx="1390.0" cy="1272.2" r="11.0" fill="#BEBEBE" stroke="none" stroke-width="0" />
<circle cx="1395.8" cy="1254.0" r="11.0" fill="#BEBEBE" stroke="none" stroke-width="0" />
<circle cx="1395.8" cy="1261.0" r="11.0" fill="#BEBEBE" stroke="none" stroke-width="0" />
<circle cx="1395.8" cy="1268.0" r="11.0" fill="#BEBEBE" stroke="none" stroke-width="0" />
<circle cx="1395.8" cy="1272.2" r="11.0" fill="#BEBEBE" stroke="none" stroke-width="0" />
<circle cx="1401.7" cy="1252.0" r="11.0" fill="#BEBEBE" stroke="none" stroke-width="0" />
<circle cx="1401.7" cy="1259.0" r="11.0" fill="#BEBEBE" stroke="none" stroke-width="0" />
<circle cx="1401.7" cy="1266.0" r="11.0" fill="#BEBEBE" stroke="none" stroke-width="0" />
<circle cx="1401.7" cy="1272.2" r="11.0" fill="#BEBEBE" stroke="none" stroke-width="0" />
<circle cx="1407.5" cy="1251.6" r="11.0" fill="#BEBEBE" stroke="none" stroke-width="0" />
<circle cx="1407.5" cy="1258.6" r="11.0" fill="#BEBEBE" stroke="none" stroke-width="0" />
<circle cx="1407.5" cy="1265.6" r="11.0" fill="#BEBEBE" stroke="none" stroke-width="0" />
<circle cx="1407.5" cy="1272.2" r="11.0" fill="#BEBEBE" stroke="none" stroke-width="0" />
<circle cx="1413.2" cy="1251.1" r="11.0" fill="#BEBEBE" stroke="none" stroke-width="0" />
<circle cx="1413.2" cy="1258.1" r="11.0" fill="#BEBEBE" stroke="none" stroke-width="0" />
<circle cx="1413.2" cy="1265.1" r="11.0" fill="#BEBEBE" stroke="none" stroke-width="0" />
<circle cx="1413.2" cy="1272.1" r="11.0" fill="#BEBEBE" stroke="none" stroke-width="0" />
<circle cx="1413.2" cy="1272.2" r="11.0" fill="#BEBEBE" stroke="none" stroke-width="0" />
<circle cx="1419.0" cy="1250.7" r="11.0" fill="#BEBEBE" stroke="none" stroke-width="0" />
<circle cx="1419.0" cy="1257.7" r="11.0" fill="#BEBEBE" stroke="none" stroke-width="0" />
<circle cx="1419.0" cy="1264.7" r="11.0" fill="#BEBEBE" stroke="none" stroke-width="0" />
<circle cx="1419.0" cy="1271.7" r="11.0" fill="#BEBEBE" stroke="none" stroke-width="0" />
<circle cx="1419.0" cy="1272.2" r="11.0" fill="#BEBEBE" stroke="none" stroke-width="0" />
<circle cx="1426.5" cy="1245.8" r="11.0" fill="#BEBEBE" stroke="none" stroke-width="0" />
<circle cx="1426.5" cy="1252.8" r="11.0" fill="#BEBEBE" stroke="none" stroke-width="0" />
<circle cx="1426.5" cy="1259.8" r="11.0" fill="#BEBEBE" stroke="none" stroke-width="0" />
<circle cx="1426.5" cy="1266.8" r="11.0" fill="#BEBEBE" stroke="none" stroke-width="0" />
<circle cx="1426.5" cy="1272.2" r="11.0" fill="#BEBEBE" stroke="none" stroke-width="0" />
<circle cx="1433.9" cy="1240.8" r="11.0" fill="#BEBEBE" stroke="none" stroke-width="0" />
<circle cx="1433.9" cy="1247.8" r="11.0" fill="#BEBEBE" stroke="none" stroke-width="0" />
<circle cx="1433.9" cy="1254.8" r="11.0" fill="#BEBEBE" stroke="none" stroke-width="0" />
<circle cx="1433.9" cy="1261.8" r="11.0" fill="#BEBEBE" stroke="none" stroke-width="0" />
<circle cx="1433.9" cy="1268.8" r="11.0" fill="#BEBEBE" stroke="none" stroke-width="0" />
<circle cx="1433.9" cy="1272.2" r="11.0" fill="#BEBEBE" stroke="none" stroke-width="0" />
<circle cx="1439.5" cy="1244.5" r="11.0" fill="#BEBEBE" stroke="none" stroke-width="0" />
<circle cx="1439.5" cy="1251.5" r="11.0" fill="#BEBEBE" stroke="none" stroke-width="0" />
<circle cx="1439.5" cy="1258.5" r="11.0" fill="#BEBEBE" stroke="none" stroke-width="0" />
<circle cx="1439.5" cy="1265.5" r="11.0" fill="#BEBEBE" stroke="none" stroke-width="0" />
<circle cx="1439.5" cy="1272.2" r="11.0" fill="#BEBEBE" stroke="none" stroke-width="0" />
<circle cx="1445.0" cy="1248.2" r="11.0" fill="#BEBEBE" stroke="none" stroke-width="0" />
<circle cx="1445.0" cy="1255.2" r="11.0" fill="#BEBEBE" stroke="none" stroke-width="0" />
<circle cx="1445.0" cy="1262.2" r="11.0" fill="#BEBEBE" stroke="none" stroke-width="0" />
<circle cx="1445.0" cy="1269.2" r="11.0" fill="#BEBEBE" stroke="none" stroke-width="0" />
<circle cx="1445.0" cy="1272.2" r="11.0" fill="#BEBEBE" stroke="none" stroke-width="0" />
<circle cx="1450.6" cy="1253.8" r="11.0" fill="#BEBEBE" stroke="none" stroke-width="0" />
<circle cx="1450.6" cy="1260.8" r="11.0" fill="#BEBEBE" stroke="none" stroke-width="0" />
<circle cx="1450.6" cy="1267.8" r="11.0" fill="#BEBEBE" stroke="none" stroke-width="0" />
<circle cx="1450.6" cy="1272.2" r="11.0" fill="#BEBEBE" stroke="none" stroke-width="0" />
<circle cx="1456.2" cy="1259.4" r="11.0" fill="#BEBEBE" stroke="none" stroke-width="0" />
<circle cx="1456.2" cy="1266.4" r="11.0" fill="#BEBEBE" stroke="none" stroke-width="0" />
<circle cx="1456.2" cy="1272.2" r="11.0" fill="#BEBEBE" stroke="none" stroke-width="0" />
<circle cx="1465.0" cy="1272.2" r="11.0" fill="#BEBEBE" stroke="none" stroke-width="0" />
<circle cx="1590.0" cy="1272.2" r="11.0" fill="#BEBEBE" stroke="none" stroke-width="0" />
<circle cx="1596.8" cy="1260.6" r="11.0" fill="#BEBEBE" stroke="none" stroke-width="0" />
<circle cx="1596.8" cy="1267.6" r="11.0" fill="#BEBEBE" stroke="none" stroke-width="0" />
<circle cx="1596.8" cy="1272.2" r="11.0" fill="#BEBEBE" stroke="none" stroke-width="0" />
<circle cx="1603.0" cy="1257.5" r="11.0" fill="#BEBEBE" stroke="none" stroke-width="0" />
<circle cx="1603.0" cy="1264.5" r="11.0" fill="#BEBEBE" stroke="none" stroke-width="0" />
<circle cx="1603.0" cy="1271.5" r="11.0" fill="#BEBEBE" stroke="none" stroke-width="0" />
<circle cx="1603.0" cy="1272.2" r="11.0" fill="#BEBEBE" stroke="none" stroke-width="0" />
<circle cx="1609.2" cy="1254.4" r="11.0" fill="#BEBEBE" stroke="none" stroke-width="0" />
<circle cx="1609.2" cy="1261.4" r="11.0" fill="#BEBEBE" stroke="none" stroke-width="0" />
<circle cx="1609.2" cy="1268.4" r="11.0" fill="#BEBEBE" stroke="none" stroke-width="0" />
<circle cx="1609.2" cy="1272.2" r="11.0" fill="#BEBEBE" stroke="none" stroke-width="0" />
<circle cx="1614.8" cy="1252.0" r="11.0" fill="#BEBEBE" stroke="none" stroke-width="0" />
<circle cx="1614.8" cy="1259.0" r="11.0" fill="#BEBEBE" stroke="none" stroke-width="0" />
<circle cx="1614.8" cy="1266.0" r="11.0" fill="#BEBEBE" stroke="none" stroke-width="0" />
<circle cx="1614.8" cy="1272.2" r="11.0" fill="#BEBEBE" stroke="none" stroke-width="0" />
<circle cx="1620.3" cy="1249.5" r="11.0" fill="#BEBEBE" stroke="none" stroke-width="0" />
<circle cx="1620.3" cy="1256.5" r="11.0" fill="#BEBEBE" stroke="none" stroke-width="0" />
<circle cx="1620.3" cy="1263.5" r="11.0" fill="#BEBEBE" stroke="none" stroke-width="0" />
<circle cx="1620.3" cy="1270.5" r="11.0" fill="#BEBEBE" stroke="none" stroke-width="0" />
<circle cx="1620.3" cy="1272.2" r="11.0" fill="#BEBEBE" stroke="none" stroke-width="0" />
<circle cx="1626.5" cy="1247.3" r="11.0" fill="#BEBEBE" stroke="none" stroke-width="0" />
<circle cx="1626.5" cy="1254.3" r="11.0" fill="#BEBEBE" stroke="none" stroke-width="0" />
<circle cx="1626.5" cy="1261.3" r="11.0" fill="#BEBEBE" stroke="none" stroke-width="0" />
<circle cx="1626.5" cy="1268.3" r="11.0" fill="#BEBEBE" stroke="none" stroke-width="0" />
<circle cx="1626.5" cy="1272.2" r="11.0" fill="#BEBEBE" stroke="none" stroke-width="0" />
<circle cx="1632.7" cy="1245.2" r="11.0" fill="#BEBEBE" stroke="none" stroke-width="0" />
<circle cx="1632.7" cy="1252.2" r="11.0" fill="#BEBEBE" stroke="none" stroke-width="0" />
<circle cx="1632.7" cy="1259.2" r="11.0" fill="#BEBEBE" stroke="none" stroke-width="0" />
<circle cx="1632.7" cy="1266.2" r="11.0" fill="#BEBEBE" stroke="none" stroke-width="0" />
<circle cx="1632.7" cy="1272.2" r="11.0" fill="#BEBEBE" stroke="none" stroke-width="0" />
<circle cx="1638.8" cy="1243.0" r="11.0" fill="#BEBEBE" stroke="none" stroke-width="0" />
<circle cx="1638.8" cy="1250.0" r="11.0" fill="#BEBEBE" stroke="none" stroke-width="0" />
<circle cx="1638.8" cy="1257.0" r="11.0" fill="#BEBEBE" stroke="none" stroke-width="0" />
<circle cx="1638.8" cy="1264.0" r="11.0" fill="#BEBEBE" stroke="none" stroke-width="0" />
<circle cx="1638.8" cy="1271.0" r="11.0" fill="#BEBEBE" stroke="none" stroke-width="0" />
<circle cx="1638.8" cy="1272.2" r="11.0" fill="#BEBEBE" stroke="none" stroke-width="0" />
<circle cx="1645.0" cy="1240.8" r="11.0" fill="#BEBEBE" stroke="none" stroke-width="0" />
<circle cx="1645.0" cy="1247.8" r="11.0" fill="#BEBEBE" stroke="none" stroke-width="0" />
<circle cx="1645.0" cy="1254.8" r="11.0" fill="#BEBEBE" stroke="none" stroke-width="0" />
<circle cx="1645.0" cy="1261.8" r="11.0" fill="#BEBEBE" stroke="none" stroke-width="0" />
<circle cx="1645.0" cy="1268.8" r="11.0" fill="#BEBEBE" stroke="none" stroke-width="0" />
<circle cx="1645.0" cy="1272.2" r="11.0" fill="#BEBEBE" stroke="none" stroke-width="0" />
<circle cx="1652.5" cy="1245.2" r="11.0" fill="#BEBEBE" stroke="none" stroke-width="0" />
<circle cx="1652.5" cy="1252.2" r="11.0" fill="#BEBEBE" stroke="none" stroke-width="0" />
<circle cx="1652.5" cy="1259.2" r="11.0" fill="#BEBEBE" stroke="none" stroke-width="0" />
<circle cx="1652.5" cy="1266.2" r="11.0" fill="#BEBEBE" stroke="none" stroke-width="0" />
<circle cx="1652.5" cy="1272.2" r="11.0" fill="#BEBEBE" stroke="none" stroke-width="0" />
<circle cx="1659.9" cy="1249.5" r="11.0" fill="#BEBEBE" stroke="none" stroke-width="0" />
<circle cx="1659.9" cy="1256.5" r="11.0" fill="#BEBEBE" stroke="none" stroke-width="0" />
<circle cx="1659.9" cy="1263.5" r="11.0" fill="#BEBEBE" stroke="none" stroke-width="0" />
<circle cx="1659.9" cy="1270.5" r="11.0" fill="#BEBEBE" stroke="none" stroke-width="0" />
<circle cx="1659.9" cy="1272.2" r="11.0" fill="#BEBEBE" stroke="none" stroke-width="0" />
<circle cx="1666.0" cy="1255.7" r="11.0" fill="#BEBEBE" stroke="none" stroke-width="0" />
<circle cx="1666.0" cy="1262.7" r="11.0" fill="#BEBEBE" stroke="none" stroke-width="0" />
<circle cx="1666.0" cy="1269.7" r="11.0" fill="#BEBEBE" stroke="none" stroke-width="0" />
<circle cx="1666.0" cy="1272.2" r="11.0" fill="#BEBEBE" stroke="none" stroke-width="0" />
<circle cx="1669.8" cy="1272.0" r="11.0" fill="#BEBEBE" stroke="none" stroke-width="0" />
<circle cx="1265.8" cy="1142.8" r="10.6" fill="#BEBEBE" stroke="#B7B7B7" stroke-width="1.2" />
<circle cx="1283.1" cy="1140.0" r="10.6" fill="#BEBEBE" stroke="#B7B7B7" stroke-width="1.2" />
<circle cx="1274.5" cy="1163.5" r="10.6" fill="#BEBEBE" stroke="#B7B7B7" stroke-width="1.2" />
<circle cx="1292.8" cy="1179.1" r="10.6" fill="#BEBEBE" stroke="#B7B7B7" stroke-width="1.2" />
<circle cx="1300.4" cy="1189.5" r="10.6" fill="#BEBEBE" stroke="#B7B7B7" stroke-width="1.2" />
<circle cx="1303.9" cy="1205.1" r="10.6" fill="#BEBEBE" stroke="#B7B7B7" stroke-width="1.2" />
<circle cx="1347.2" cy="1154.9" r="10.6" fill="#BEBEBE" stroke="#B7B7B7" stroke-width="1.2" />
<circle cx="1333.3" cy="1168.7" r="10.6" fill="#BEBEBE" stroke="#B7B7B7" stroke-width="1.2" />
<circle cx="1340.3" cy="1168.7" r="10.6" fill="#BEBEBE" stroke="#B7B7B7" stroke-width="1.2" />
<circle cx="1358.6" cy="1191.3" r="10.6" fill="#BEBEBE" stroke="#B7B7B7" stroke-width="1.2" />
<circle cx="1394.9" cy="1224.1" r="10.6" fill="#BEBEBE" stroke="#B7B7B7" stroke-width="1.2" />
<circle cx="1359.7" cy="1233.4" r="10.6" fill="#BEBEBE" stroke="#B7B7B7" stroke-width="1.2" />
<circle cx="1369.6" cy="1234.6" r="10.6" fill="#BEBEBE" stroke="#B7B7B7" stroke-width="1.2" />
<circle cx="1354.7" cy="1250.7" r="10.6" fill="#BEBEBE" stroke="#B7B7B7" stroke-width="1.2" />
<circle cx="1360.9" cy="1255.7" r="10.6" fill="#BEBEBE" stroke="#B7B7B7" stroke-width="1.2" />
<circle cx="1383.2" cy="1274.2" r="10.6" fill="#BEBEBE" stroke="#B7B7B7" stroke-width="1.2" />
<circle cx="1676.0" cy="1240.8" r="10.6" fill="#BEBEBE" stroke="#B7B7B7" stroke-width="1.2" />
<circle cx="1690.8" cy="1232.8" r="10.6" fill="#BEBEBE" stroke="#B7B7B7" stroke-width="1.2" />
<line x1="1392.7" y1="741.0" x2="1392.7" y2="1295.4" stroke="#B9B9B9" stroke-width="3.8" stroke-dasharray="4 13.9 18.5 13.85"/>
<line x1="1674.1" y1="741.0" x2="1674.1" y2="1295.4" stroke="#B9B9B9" stroke-width="3.8" stroke-dasharray="4 13.9 18.5 13.85"/>
<line x1="1218.5" y1="1132.3" x2="1747.6" y2="1132.3" stroke="#B9B9B9" stroke-width="3.8" stroke-dasharray="4 13.9 18.5 13.85"/>
<circle cx="1277.9" cy="766.2" r="10.8" fill="rgba(255,69,0,0.8)" stroke="rgba(228,70,12,0.9)" stroke-width="2.4" />
<circle cx="1327.1" cy="1019.8" r="10.8" fill="rgba(255,69,0,0.8)" stroke="rgba(228,70,12,0.9)" stroke-width="2.4" />
<circle cx="1242.6" cy="1121.3" r="10.8" fill="rgba(255,69,0,0.8)" stroke="rgba(228,70,12,0.9)" stroke-width="2.4" />
<circle cx="1302.9" cy="1113.3" r="10.8" fill="rgba(255,69,0,0.8)" stroke="rgba(228,70,12,0.9)" stroke-width="2.4" />
<circle cx="1327.4" cy="1128.9" r="10.8" fill="rgba(255,69,0,0.8)" stroke="rgba(228,70,12,0.9)" stroke-width="2.4" />
<circle cx="1326.4" cy="1112.6" r="10.8" fill="rgba(255,69,0,0.8)" stroke="rgba(228,70,12,0.9)" stroke-width="2.4" />
<circle cx="1342.0" cy="1112.6" r="10.8" fill="rgba(255,69,0,0.8)" stroke="rgba(228,70,12,0.9)" stroke-width="2.4" />
<circle cx="1352.4" cy="1112.6" r="10.8" fill="rgba(255,69,0,0.8)" stroke="rgba(228,70,12,0.9)" stroke-width="2.4" />
<circle cx="1365.5" cy="1113.3" r="10.8" fill="rgba(255,69,0,0.8)" stroke="rgba(228,70,12,0.9)" stroke-width="2.4" />
<text x="1254.75" y="828.50" font-size="32.50" textLength="223.10" lengthAdjust="spacingAndGlyphs" fill="#E4521C">Ty r_GTA−54_74</text>
<rect x="1218.5" y="699.0" width="531.0" height="42.0" fill="#D9D9D9" stroke="none" stroke-width="0" />
<rect x="1218.5" y="699.0" width="531.0" height="598.3" fill="none" stroke="#333" stroke-width="3.8" />
<line x1="1218.5" y1="741.0" x2="1749.5" y2="741.0" stroke="#333" stroke-width="3.8" />
<text x="1404.57" y="730.90" font-size="32.30" textLength="182.26" lengthAdjust="spacingAndGlyphs">internal−tRF</text>
<line x1="1251.9" y1="1297.3" x2="1251.9" y2="1304.3" stroke="#333" stroke-width="3" />
<text x="1231.8" y="1338.5" font-size="29.2" fill="#4D4D4D" >−2</text>
<line x1="1392.7" y1="1297.3" x2="1392.7" y2="1304.3" stroke="#333" stroke-width="3" />
<text x="1372.5" y="1338.5" font-size="29.2" fill="#4D4D4D" >−1</text>
<line x1="1533.4" y1="1297.3" x2="1533.4" y2="1304.3" stroke="#333" stroke-width="3" />
<text x="1530.3" y="1338.5" font-size="29.2" fill="#4D4D4D" >0</text>
<line x1="1674.1" y1="1297.3" x2="1674.1" y2="1304.3" stroke="#333" stroke-width="3" />
<text x="1671.0" y="1338.5" font-size="29.2" fill="#4D4D4D" >1</text>
<line x1="324.0" y1="1884.2" x2="578.0" y2="1884.2" stroke="#BEBEBE" stroke-width="23.5" stroke-linecap="round"/>
<circle cx="312.7" cy="1872.0" r="11.0" fill="#BEBEBE" stroke="none" stroke-width="0" />
<circle cx="312.7" cy="1879.0" r="11.0" fill="#BEBEBE" stroke="none" stroke-width="0" />
<circle cx="312.7" cy="1884.2" r="11.0" fill="#BEBEBE" stroke="none" stroke-width="0" />
<circle cx="312.7" cy="1847.0" r="11.0" fill="#BEBEBE" stroke="none" stroke-width="0" />
<circle cx="312.7" cy="1854.0" r="11.0" fill="#BEBEBE" stroke="none" stroke-width="0" />
<circle cx="312.7" cy="1861.0" r="11.0" fill="#BEBEBE" stroke="none" stroke-width="0" />
<circle cx="312.7" cy="1868.0" r="11.0" fill="#BEBEBE" stroke="none" stroke-width="0" />
<circle cx="312.7" cy="1875.0" r="11.0" fill="#BEBEBE" stroke="none" stroke-width="0" />
<circle cx="312.7" cy="1882.0" r="11.0" fill="#BEBEBE" stroke="none" stroke-width="0" />
<circle cx="312.7" cy="1884.2" r="11.0" fill="#BEBEBE" stroke="none" stroke-width="0" />
<circle cx="319.6" cy="1835.0" r="11.0" fill="#BEBEBE" stroke="none" stroke-width="0" />
<circle cx="319.6" cy="1842.0" r="11.0" fill="#BEBEBE" stroke="none" stroke-width="0" />
<circle cx="319.6" cy="1849.0" r="11.0" fill="#BEBEBE" stroke="none" stroke-width="0" />
<circle cx="319.6" cy="1856.0" r="11.0" fill="#BEBEBE" stroke="none" stroke-width="0" />
<circle cx="319.6" cy="1863.0" r="11.0" fill="#BEBEBE" stroke="none" stroke-width="0" />
<circle cx="319.6" cy="1870.0" r="11.0" fill="#BEBEBE" stroke="none" stroke-width="0" />
<circle cx="319.6" cy="1877.0" r="11.0" fill="#BEBEBE" stroke="none" stroke-width="0" />
<circle cx="319.6" cy="1884.0" r="11.0" fill="#BEBEBE" stroke="none" stroke-width="0" />
<circle cx="319.6" cy="1884.2" r="11.0" fill="#BEBEBE" stroke="none" stroke-width="0" />
<circle cx="325.6" cy="1834.2" r="11.0" fill="#BEBEBE" stroke="none" stroke-width="0" />
<circle cx="325.6" cy="1841.2" r="11.0" fill="#BEBEBE" stroke="none" stroke-width="0" />
<circle cx="325.6" cy="1848.2" r="11.0" fill="#BEBEBE" stroke="none" stroke-width="0" />
<circle cx="325.6" cy="1855.2" r="11.0" fill="#BEBEBE" stroke="none" stroke-width="0" />
<circle cx="325.6" cy="1862.2" r="11.0" fill="#BEBEBE" stroke="none" stroke-width="0" />
<circle cx="325.6" cy="1869.2" r="11.0" fill="#BEBEBE" stroke="none" stroke-width="0" />
<circle cx="325.6" cy="1876.2" r="11.0" fill="#BEBEBE" stroke="none" stroke-width="0" />
<circle cx="325.6" cy="1883.2" r="11.0" fill="#BEBEBE" stroke="none" stroke-width="0" />
<circle cx="325.6" cy="1884.2" r="11.0" fill="#BEBEBE" stroke="none" stroke-width="0" />
<circle cx="331.5" cy="1833.3" r="11.0" fill="#BEBEBE" stroke="none" stroke-width="0" />
<circle cx="331.5" cy="1840.3" r="11.0" fill="#BEBEBE" stroke="none" stroke-width="0" />
<circle cx="331.5" cy="1847.3" r="11.0" fill="#BEBEBE" stroke="none" stroke-width="0" />
<circle cx="331.5" cy="1854.3" r="11.0" fill="#BEBEBE" stroke="none" stroke-width="0" />
<circle cx="331.5" cy="1861.3" r="11.0" fill="#BEBEBE" stroke="none" stroke-width="0" />
<circle cx="331.5" cy="1868.3" r="11.0" fill="#BEBEBE" stroke="none" stroke-width="0" />
<circle cx="331.5" cy="1875.3" r="11.0" fill="#BEBEBE" stroke="none" stroke-width="0" />
<circle cx="331.5" cy="1882.3" r="11.0" fill="#BEBEBE" stroke="none" stroke-width="0" />
<circle cx="331.5" cy="1884.2" r="11.0" fill="#BEBEBE" stroke="none" stroke-width="0" />
<circle cx="338.4" cy="1834.2" r="11.0" fill="#BEBEBE" stroke="none" stroke-width="0" />
<circle cx="338.4" cy="1841.2" r="11.0" fill="#BEBEBE" stroke="none" stroke-width="0" />
<circle cx="338.4" cy="1848.2" r="11.0" fill="#BEBEBE" stroke="none" stroke-width="0" />
<circle cx="338.4" cy="1855.2" r="11.0" fill="#BEBEBE" stroke="none" stroke-width="0" />
<circle cx="338.4" cy="1862.2" r="11.0" fill="#BEBEBE" stroke="none" stroke-width="0" />
<circle cx="338.4" cy="1869.2" r="11.0" fill="#BEBEBE" stroke="none" stroke-width="0" />
<circle cx="338.4" cy="1876.2" r="11.0" fill="#BEBEBE" stroke="none" stroke-width="0" />
<circle cx="338.4" cy="1883.2" r="11.0" fill="#BEBEBE" stroke="none" stroke-width="0" />
<circle cx="338.4" cy="1884.2" r="11.0" fill="#BEBEBE" stroke="none" stroke-width="0" />
<circle cx="345.3" cy="1835.2" r="11.0" fill="#BEBEBE" stroke="none" stroke-width="0" />
<circle cx="345.3" cy="1842.2" r="11.0" fill="#BEBEBE" stroke="none" stroke-width="0" />
<circle cx="345.3" cy="1849.2" r="11.0" fill="#BEBEBE" stroke="none" stroke-width="0" />
<circle cx="345.3" cy="1856.2" r="11.0" fill="#BEBEBE" stroke="none" stroke-width="0" />
<circle cx="345.3" cy="1863.2" r="11.0" fill="#BEBEBE" stroke="none" stroke-width="0" />
<circle cx="345.3" cy="1870.2" r="11.0" fill="#BEBEBE" stroke="none" stroke-width="0" />
<circle cx="345.3" cy="1877.2" r="11.0" fill="#BEBEBE" stroke="none" stroke-width="0" />
<circle cx="345.3" cy="1884.2" r="11.0" fill="#BEBEBE" stroke="none" stroke-width="0" />
<circle cx="352.2" cy="1837.2" r="11.0" fill="#BEBEBE" stroke="none" stroke-width="0" />
<circle cx="352.2" cy="1844.2" r="11.0" fill="#BEBEBE" stroke="none" stroke-width="0" />
<circle cx="352.2" cy="1851.2" r="11.0" fill="#BEBEBE" stroke="none" stroke-width="0" />
<circle cx="352.2" cy="1858.2" r="11.0" fill="#BEBEBE" stroke="none" stroke-width="0" />
<circle cx="352.2" cy="1865.2" r="11.0" fill="#BEBEBE" stroke="none" stroke-width="0" />
<circle cx="352.2" cy="1872.2" r="11.0" fill="#BEBEBE" stroke="none" stroke-width="0" />
<circle cx="352.2" cy="1879.2" r="11.0" fill="#BEBEBE" stroke="none" stroke-width="0" />
<circle cx="352.2" cy="1884.2" r="11.0" fill="#BEBEBE" stroke="none" stroke-width="0" />
<circle cx="359.2" cy="1839.2" r="11.0" fill="#BEBEBE" stroke="none" stroke-width="0" />
<circle cx="359.2" cy="1846.2" r="11.0" fill="#BEBEBE" stroke="none" stroke-width="0" />
<circle cx="359.2" cy="1853.2" r="11.0" fill="#BEBEBE" stroke="none" stroke-width="0" />
<circle cx="359.2" cy="1860.2" r="11.0" fill="#BEBEBE" stroke="none" stroke-width="0" />
<circle cx="359.2" cy="1867.2" r="11.0" fill="#BEBEBE" stroke="none" stroke-width="0" />
<circle cx="359.2" cy="1874.2" r="11.0" fill="#BEBEBE" stroke="none" stroke-width="0" />
<circle cx="359.2" cy="1881.2" r="11.0" fill="#BEBEBE" stroke="none" stroke-width="0" />
<circle cx="359.2" cy="1884.2" r="11.0" fill="#BEBEBE" stroke="none" stroke-width="0" />
<circle cx="367.1" cy="1845.1" r="11.0" fill="#BEBEBE" stroke="none" stroke-width="0" />
<circle cx="367.1" cy="1852.1" r="11.0" fill="#BEBEBE" stroke="none" stroke-width="0" />
<circle cx="367.1" cy="1859.1" r="11.0" fill="#BEBEBE" stroke="none" stroke-width="0" />
<circle cx="367.1" cy="1866.1" r="11.0" fill="#BEBEBE" stroke="none" stroke-width="0" />
<circle cx="367.1" cy="1873.1" r="11.0" fill="#BEBEBE" stroke="none" stroke-width="0" />
<circle cx="367.1" cy="1880.1" r="11.0" fill="#BEBEBE" stroke="none" stroke-width="0" />
<circle cx="367.1" cy="1884.2" r="11.0" fill="#BEBEBE" stroke="none" stroke-width="0" />
<circle cx="377.0" cy="1857.0" r="11.0" fill="#BEBEBE" stroke="none" stroke-width="0" />
<circle cx="377.0" cy="1864.0" r="11.0" fill="#BEBEBE" stroke="none" stroke-width="0" />
<circle cx="377.0" cy="1871.0" r="11.0" fill="#BEBEBE" stroke="none" stroke-width="0" />
<circle cx="377.0" cy="1878.0" r="11.0" fill="#BEBEBE" stroke="none" stroke-width="0" />
<circle cx="377.0" cy="1884.2" r="11.0" fill="#BEBEBE" stroke="none" stroke-width="0" />
<circle cx="382.4" cy="1862.0" r="11.0" fill="#BEBEBE" stroke="none" stroke-width="0" />
<circle cx="382.4" cy="1869.0" r="11.0" fill="#BEBEBE" stroke="none" stroke-width="0" />
<circle cx="382.4" cy="1876.0" r="11.0" fill="#BEBEBE" stroke="none" stroke-width="0" />
<circle cx="382.4" cy="1883.0" r="11.0" fill="#BEBEBE" stroke="none" stroke-width="0" />
<circle cx="382.4" cy="1884.2" r="11.0" fill="#BEBEBE" stroke="none" stroke-width="0" />
<circle cx="387.9" cy="1866.9" r="11.0" fill="#BEBEBE" stroke="none" stroke-width="0" />
<circle cx="387.9" cy="1873.9" r="11.0" fill="#BEBEBE" stroke="none" stroke-width="0" />
<circle cx="387.9" cy="1880.9" r="11.0" fill="#BEBEBE" stroke="none" stroke-width="0" />
<circle cx="387.9" cy="1884.2" r="11.0" fill="#BEBEBE" stroke="none" stroke-width="0" />
<circle cx="392.0" cy="1884.0" r="11.0" fill="#BEBEBE" stroke="none" stroke-width="0" />
<circle cx="500.0" cy="1884.0" r="11.0" fill="#BEBEBE" stroke="none" stroke-width="0" />
<circle cx="500.0" cy="1884.2" r="11.0" fill="#BEBEBE" stroke="none" stroke-width="0" />
<circle cx="503.8" cy="1870.9" r="11.0" fill="#BEBEBE" stroke="none" stroke-width="0" />
<circle cx="503.8" cy="1877.9" r="11.0" fill="#BEBEBE" stroke="none" stroke-width="0" />
<circle cx="503.8" cy="1884.2" r="11.0" fill="#BEBEBE" stroke="none" stroke-width="0" />
<circle cx="510.7" cy="1867.0" r="11.0" fill="#BEBEBE" stroke="none" stroke-width="0" />
<circle cx="510.7" cy="1874.0" r="11.0" fill="#BEBEBE" stroke="none" stroke-width="0" />
<circle cx="510.7" cy="1881.0" r="11.0" fill="#BEBEBE" stroke="none" stroke-width="0" />
<circle cx="510.7" cy="1884.2" r="11.0" fill="#BEBEBE" stroke="none" stroke-width="0" />
<circle cx="517.6" cy="1863.0" r="11.0" fill="#BEBEBE" stroke="none" stroke-width="0" />
<circle cx="517.6" cy="1870.0" r="11.0" fill="#BEBEBE" stroke="none" stroke-width="0" />
<circle cx="517.6" cy="1877.0" r="11.0" fill="#BEBEBE" stroke="none" stroke-width="0" />
<circle cx="517.6" cy="1884.0" r="11.0" fill="#BEBEBE" stroke="none" stroke-width="0" />
<circle cx="517.6" cy="1884.2" r="11.0" fill="#BEBEBE" stroke="none" stroke-width="0" />
<circle cx="523.5" cy="1859.7" r="11.0" fill="#BEBEBE" stroke="none" stroke-width="0" />
<circle cx="523.5" cy="1866.7" r="11.0" fill="#BEBEBE" stroke="none" stroke-width="0" />
<circle cx="523.5" cy="1873.7" r="11.0" fill="#BEBEBE" stroke="none" stroke-width="0" />
<circle cx="523.5" cy="1880.7" r="11.0" fill="#BEBEBE" stroke="none" stroke-width="0" />
<circle cx="523.5" cy="1884.2" r="11.0" fill="#BEBEBE" stroke="none" stroke-width="0" />
<circle cx="529.5" cy="1856.4" r="11.0" fill="#BEBEBE" stroke="none" stroke-width="0" />
<circle cx="529.5" cy="1863.4" r="11.0" fill="#BEBEBE" stroke="none" stroke-width="0" />
<circle cx="529.5" cy="1870.4" r="11.0" fill="#BEBEBE" stroke="none" stroke-width="0" />
<circle cx="529.5" cy="1877.4" r="11.0" fill="#BEBEBE" stroke="none" stroke-width="0" />
<circle cx="529.5" cy="1884.2" r="11.0" fill="#BEBEBE" stroke="none" stroke-width="0" />
<circle cx="535.4" cy="1853.1" r="11.0" fill="#BEBEBE" stroke="none" stroke-width="0" />
<circle cx="535.4" cy="1860.1" r="11.0" fill="#BEBEBE" stroke="none" stroke-width="0" />
<circle cx="535.4" cy="1867.1" r="11.0" fill="#BEBEBE" stroke="none" stroke-width="0" />
<circle cx="535.4" cy="1874.1" r="11.0" fill="#BEBEBE" stroke="none" stroke-width="0" />
<circle cx="535.4" cy="1881.1" r="11.0" fill="#BEBEBE" stroke="none" stroke-width="0" />
<circle cx="535.4" cy="1884.2" r="11.0" fill="#BEBEBE" stroke="none" stroke-width="0" />
<circle cx="540.9" cy="1853.6" r="11.0" fill="#BEBEBE" stroke="none" stroke-width="0" />
<circle cx="540.9" cy="1860.6" r="11.0" fill="#BEBEBE" stroke="none" stroke-width="0" />
<circle cx="540.9" cy="1867.6" r="11.0" fill="#BEBEBE" stroke="none" stroke-width="0" />
<circle cx="540.9" cy="1874.6" r="11.0" fill="#BEBEBE" stroke="none" stroke-width="0" />
<circle cx="540.9" cy="1881.6" r="11.0" fill="#BEBEBE" stroke="none" stroke-width="0" />
<circle cx="540.9" cy="1884.2" r="11.0" fill="#BEBEBE" stroke="none" stroke-width="0" />
<circle cx="546.3" cy="1854.0" r="11.0" fill="#BEBEBE" stroke="none" stroke-width="0" />
<circle cx="546.3" cy="1861.0" r="11.0" fill="#BEBEBE" stroke="none" stroke-width="0" />
<circle cx="546.3" cy="1868.0" r="11.0" fill="#BEBEBE" stroke="none" stroke-width="0" />
<circle cx="546.3" cy="1875.0" r="11.0" fill="#BEBEBE" stroke="none" stroke-width="0" />
<circle cx="546.3" cy="1882.0" r="11.0" fill="#BEBEBE" stroke="none" stroke-width="0" />
<circle cx="546.3" cy="1884.2" r="11.0" fill="#BEBEBE" stroke="none" stroke-width="0" />
<circle cx="551.8" cy="1854.5" r="11.0" fill="#BEBEBE" stroke="none" stroke-width="0" />
<circle cx="551.8" cy="1861.5" r="11.0" fill="#BEBEBE" stroke="none" stroke-width="0" />
<circle cx="551.8" cy="1868.5" r="11.0" fill="#BEBEBE" stroke="none" stroke-width="0" />
<circle cx="551.8" cy="1875.5" r="11.0" fill="#BEBEBE" stroke="none" stroke-width="0" />
<circle cx="551.8" cy="1882.5" r="11.0" fill="#BEBEBE" stroke="none" stroke-width="0" />
<circle cx="551.8" cy="1884.2" r="11.0" fill="#BEBEBE" stroke="none" stroke-width="0" />
<circle cx="557.2" cy="1855.0" r="11.0" fill="#BEBEBE" stroke="none" stroke-width="0" />
<circle cx="557.2" cy="1862.0" r="11.0" fill="#BEBEBE" stroke="none" stroke-width="0" />
<circle cx="557.2" cy="1869.0" r="11.0" fill="#BEBEBE" stroke="none" stroke-width="0" />
<circle cx="557.2" cy="1876.0" r="11.0" fill="#BEBEBE" stroke="none" stroke-width="0" />
<circle cx="557.2" cy="1883.0" r="11.0" fill="#BEBEBE" stroke="none" stroke-width="0" />
<circle cx="557.2" cy="1884.2" r="11.0" fill="#BEBEBE" stroke="none" stroke-width="0" />
<circle cx="562.5" cy="1857.7" r="11.0" fill="#BEBEBE" stroke="none" stroke-width="0" />
<circle cx="562.5" cy="1864.7" r="11.0" fill="#BEBEBE" stroke="none" stroke-width="0" />
<circle cx="562.5" cy="1871.7" r="11.0" fill="#BEBEBE" stroke="none" stroke-width="0" />
<circle cx="562.5" cy="1878.7" r="11.0" fill="#BEBEBE" stroke="none" stroke-width="0" />
<circle cx="562.5" cy="1884.2" r="11.0" fill="#BEBEBE" stroke="none" stroke-width="0" />
<circle cx="567.7" cy="1860.3" r="11.0" fill="#BEBEBE" stroke="none" stroke-width="0" />
<circle cx="567.7" cy="1867.3" r="11.0" fill="#BEBEBE" stroke="none" stroke-width="0" />
<circle cx="567.7" cy="1874.3" r="11.0" fill="#BEBEBE" stroke="none" stroke-width="0" />
<circle cx="567.7" cy="1881.3" r="11.0" fill="#BEBEBE" stroke="none" stroke-width="0" />
<circle cx="567.7" cy="1884.2" r="11.0" fill="#BEBEBE" stroke="none" stroke-width="0" />
<circle cx="573.0" cy="1863.0" r="11.0" fill="#BEBEBE" stroke="none" stroke-width="0" />
<circle cx="573.0" cy="1870.0" r="11.0" fill="#BEBEBE" stroke="none" stroke-width="0" />
<circle cx="573.0" cy="1877.0" r="11.0" fill="#BEBEBE" stroke="none" stroke-width="0" />
<circle cx="573.0" cy="1884.0" r="11.0" fill="#BEBEBE" stroke="none" stroke-width="0" />
<circle cx="573.0" cy="1884.2" r="11.0" fill="#BEBEBE" stroke="none" stroke-width="0" />
<circle cx="579.0" cy="1875.0" r="11.0" fill="#BEBEBE" stroke="none" stroke-width="0" />
<circle cx="316.4" cy="1723.9" r="10.6" fill="#BEBEBE" stroke="#B7B7B7" stroke-width="1.2" />
<circle cx="197.9" cy="1769.6" r="10.6" fill="#BEBEBE" stroke="#B7B7B7" stroke-width="1.2" />
<circle cx="257.6" cy="1768.7" r="10.6" fill="#BEBEBE" stroke="#B7B7B7" stroke-width="1.2" />
<circle cx="260.7" cy="1774.9" r="10.6" fill="#BEBEBE" stroke="#B7B7B7" stroke-width="1.2" />
<circle cx="312.3" cy="1764.7" r="10.6" fill="#BEBEBE" stroke="#B7B7B7" stroke-width="1.2" />
<circle cx="293.2" cy="1788.2" r="10.6" fill="#BEBEBE" stroke="#B7B7B7" stroke-width="1.2" />
<circle cx="297.8" cy="1787.3" r="10.6" fill="#BEBEBE" stroke="#B7B7B7" stroke-width="1.2" />
<circle cx="293.2" cy="1812.0" r="10.6" fill="#BEBEBE" stroke="#B7B7B7" stroke-width="1.2" />
<circle cx="297.8" cy="1815.1" r="10.6" fill="#BEBEBE" stroke="#B7B7B7" stroke-width="1.2" />
<circle cx="274.0" cy="1829.6" r="10.6" fill="#BEBEBE" stroke="#B7B7B7" stroke-width="1.2" />
<circle cx="259.1" cy="1846.0" r="10.6" fill="#BEBEBE" stroke="#B7B7B7" stroke-width="1.2" />
<circle cx="268.4" cy="1852.2" r="10.6" fill="#BEBEBE" stroke="#B7B7B7" stroke-width="1.2" />
<circle cx="287.9" cy="1872.9" r="10.6" fill="#BEBEBE" stroke="#B7B7B7" stroke-width="1.2" />
<circle cx="303.8" cy="1876.8" r="10.6" fill="#BEBEBE" stroke="#B7B7B7" stroke-width="1.2" />
<circle cx="311.7" cy="1765.9" r="10.6" fill="#BEBEBE" stroke="#B7B7B7" stroke-width="1.2" />
<circle cx="291.9" cy="1787.7" r="10.6" fill="#BEBEBE" stroke="#B7B7B7" stroke-width="1.2" />
<circle cx="296.8" cy="1813.5" r="10.6" fill="#BEBEBE" stroke="#B7B7B7" stroke-width="1.2" />
<circle cx="329.5" cy="1815.4" r="10.6" fill="#BEBEBE" stroke="#B7B7B7" stroke-width="1.2" />
<circle cx="337.4" cy="1804.6" r="10.6" fill="#BEBEBE" stroke="#B7B7B7" stroke-width="1.2" />
<circle cx="348.3" cy="1825.3" r="10.6" fill="#BEBEBE" stroke="#B7B7B7" stroke-width="1.2" />
<circle cx="353.3" cy="1827.3" r="10.6" fill="#BEBEBE" stroke="#B7B7B7" stroke-width="1.2" />
<circle cx="343.4" cy="1817.4" r="10.6" fill="#BEBEBE" stroke="#B7B7B7" stroke-width="1.2" />
<circle cx="549.3" cy="1841.2" r="10.6" fill="#BEBEBE" stroke="#B7B7B7" stroke-width="1.2" />
<circle cx="576.0" cy="1840.2" r="10.6" fill="#BEBEBE" stroke="#B7B7B7" stroke-width="1.2" />
<circle cx="543.4" cy="1855.0" r="10.6" fill="#BEBEBE" stroke="#B7B7B7" stroke-width="1.2" />
<line x1="304.9" y1="1352.7" x2="304.9" y2="1907.6" stroke="#B9B9B9" stroke-width="3.8" stroke-dasharray="4 13.9 18.5 13.85"/>
<line x1="586.3" y1="1352.7" x2="586.3" y2="1907.6" stroke="#B9B9B9" stroke-width="3.8" stroke-dasharray="4 13.9 18.5 13.85"/>
<line x1="130.7" y1="1744.3" x2="659.8" y2="1744.3" stroke="#B9B9B9" stroke-width="3.8" stroke-dasharray="4 13.9 18.5 13.85"/>
<circle cx="191.8" cy="1377.9" r="10.8" fill="rgba(255,69,0,0.8)" stroke="rgba(228,70,12,0.9)" stroke-width="2.4" />
<circle cx="243.7" cy="1492.6" r="10.8" fill="rgba(255,69,0,0.8)" stroke="rgba(228,70,12,0.9)" stroke-width="2.4" />
<circle cx="229.4" cy="1546.8" r="10.8" fill="rgba(255,69,0,0.8)" stroke="rgba(228,70,12,0.9)" stroke-width="2.4" />
<circle cx="171.0" cy="1727.0" r="10.8" fill="rgba(255,69,0,0.8)" stroke="rgba(228,70,12,0.9)" stroke-width="2.4" />
<circle cx="175.7" cy="1729.4" r="10.8" fill="rgba(255,69,0,0.8)" stroke="rgba(228,70,12,0.9)" stroke-width="2.4" />
<circle cx="287.0" cy="1740.0" r="10.8" fill="rgba(255,69,0,0.8)" stroke="rgba(228,70,12,0.9)" stroke-width="2.4" />
<circle cx="260.7" cy="1703.2" r="10.8" fill="rgba(255,69,0,0.8)" stroke="rgba(228,70,12,0.9)" stroke-width="2.4" />
<circle cx="242.1" cy="1669.8" r="10.8" fill="rgba(255,69,0,0.8)" stroke="rgba(228,70,12,0.9)" stroke-width="2.4" />
<circle cx="248.3" cy="1655.9" r="10.8" fill="rgba(255,69,0,0.8)" stroke="rgba(228,70,12,0.9)" stroke-width="2.4" />
<circle cx="259.1" cy="1652.8" r="10.8" fill="rgba(255,69,0,0.8)" stroke="rgba(228,70,12,0.9)" stroke-width="2.4" />
<circle cx="271.5" cy="1660.5" r="10.8" fill="rgba(255,69,0,0.8)" stroke="rgba(228,70,12,0.9)" stroke-width="2.4" />
<circle cx="268.4" cy="1654.3" r="10.8" fill="rgba(255,69,0,0.8)" stroke="rgba(228,70,12,0.9)" stroke-width="2.4" />
<circle cx="291.6" cy="1655.9" r="10.8" fill="rgba(255,69,0,0.8)" stroke="rgba(228,70,12,0.9)" stroke-width="2.4" />
<circle cx="277.7" cy="1637.3" r="10.8" fill="rgba(255,69,0,0.8)" stroke="rgba(228,70,12,0.9)" stroke-width="2.4" />
<circle cx="280.8" cy="1628.0" r="10.8" fill="rgba(255,69,0,0.8)" stroke="rgba(228,70,12,0.9)" stroke-width="2.4" />
<circle cx="288.5" cy="1627.4" r="10.8" fill="rgba(255,69,0,0.8)" stroke="rgba(228,70,12,0.9)" stroke-width="2.4" />
<text x="150.84" y="1424.20" font-size="32.50" textLength="224.94" lengthAdjust="spacingAndGlyphs" fill="#E4521C">Ty r_GTA−58_96</text>
<text x="242.65" y="1535.00" font-size="32.50" textLength="224.03" lengthAdjust="spacingAndGlyphs" fill="#E4521C">Ty r_GTA−55_93</text>
<text x="147.84" y="1594.40" font-size="32.50" textLength="225.03" lengthAdjust="spacingAndGlyphs" fill="#E4521C">Ty r_GTA−55_92</text>
<rect x="130.7" y="1312.1" width="531.0" height="40.6" fill="#D9D9D9" stroke="none" stroke-width="0" />
<rect x="130.7" y="1312.1" width="531.0" height="597.4" fill="none" stroke="#333" stroke-width="3.8" />
<line x1="130.7" y1="1352.7" x2="661.7" y2="1352.7" stroke="#333" stroke-width="3.8" />
<text x="342.93" y="1343.30" font-size="32.30" textLength="99.10" lengthAdjust="spacingAndGlyphs">3’−tRF</text>
<line x1="164.1" y1="1909.5" x2="164.1" y2="1916.5" stroke="#333" stroke-width="3" />
<text x="139.0" y="1947.9" font-size="29.2" fill="#4D4D4D" >−2</text>
<line x1="304.9" y1="1909.5" x2="304.9" y2="1916.5" stroke="#333" stroke-width="3" />
<text x="279.7" y="1947.9" font-size="29.2" fill="#4D4D4D" >−1</text>
<line x1="445.6" y1="1909.5" x2="445.6" y2="1916.5" stroke="#333" stroke-width="3" />
<text x="437.5" y="1947.9" font-size="29.2" fill="#4D4D4D" >0</text>
<line x1="586.3" y1="1909.5" x2="586.3" y2="1916.5" stroke="#333" stroke-width="3" />
<text x="578.2" y="1947.9" font-size="29.2" fill="#4D4D4D" >1</text>
<text x="222.92" y="1978.50" font-size="27.50" textLength="357.91" lengthAdjust="spacingAndGlyphs">log2 ( Young/Old  fold change)</text>
<line x1="895.5" y1="1884.0" x2="1092.9" y2="1884.0" stroke="#BEBEBE" stroke-width="23.5" stroke-linecap="round"/>
<circle cx="890.0" cy="1884.0" r="11.0" fill="#BEBEBE" stroke="none" stroke-width="0" />
<circle cx="899.5" cy="1861.2" r="11.0" fill="#BEBEBE" stroke="none" stroke-width="0" />
<circle cx="899.5" cy="1868.2" r="11.0" fill="#BEBEBE" stroke="none" stroke-width="0" />
<circle cx="899.5" cy="1875.2" r="11.0" fill="#BEBEBE" stroke="none" stroke-width="0" />
<circle cx="899.5" cy="1882.2" r="11.0" fill="#BEBEBE" stroke="none" stroke-width="0" />
<circle cx="899.5" cy="1884.0" r="11.0" fill="#BEBEBE" stroke="none" stroke-width="0" />
<circle cx="905.8" cy="1864.6" r="11.0" fill="#BEBEBE" stroke="none" stroke-width="0" />
<circle cx="905.8" cy="1871.6" r="11.0" fill="#BEBEBE" stroke="none" stroke-width="0" />
<circle cx="905.8" cy="1878.6" r="11.0" fill="#BEBEBE" stroke="none" stroke-width="0" />
<circle cx="905.8" cy="1884.0" r="11.0" fill="#BEBEBE" stroke="none" stroke-width="0" />
<circle cx="912.0" cy="1868.0" r="11.0" fill="#BEBEBE" stroke="none" stroke-width="0" />
<circle cx="912.0" cy="1875.0" r="11.0" fill="#BEBEBE" stroke="none" stroke-width="0" />
<circle cx="912.0" cy="1882.0" r="11.0" fill="#BEBEBE" stroke="none" stroke-width="0" />
<circle cx="912.0" cy="1884.0" r="11.0" fill="#BEBEBE" stroke="none" stroke-width="0" />
<circle cx="917.1" cy="1868.4" r="11.0" fill="#BEBEBE" stroke="none" stroke-width="0" />
<circle cx="917.1" cy="1875.4" r="11.0" fill="#BEBEBE" stroke="none" stroke-width="0" />
<circle cx="917.1" cy="1882.4" r="11.0" fill="#BEBEBE" stroke="none" stroke-width="0" />
<circle cx="917.1" cy="1884.0" r="11.0" fill="#BEBEBE" stroke="none" stroke-width="0" />
<circle cx="922.1" cy="1868.7" r="11.0" fill="#BEBEBE" stroke="none" stroke-width="0" />
<circle cx="922.1" cy="1875.7" r="11.0" fill="#BEBEBE" stroke="none" stroke-width="0" />
<circle cx="922.1" cy="1882.7" r="11.0" fill="#BEBEBE" stroke="none" stroke-width="0" />
<circle cx="922.1" cy="1884.0" r="11.0" fill="#BEBEBE" stroke="none" stroke-width="0" />
<circle cx="927.2" cy="1869.1" r="11.0" fill="#BEBEBE" stroke="none" stroke-width="0" />
<circle cx="927.2" cy="1876.1" r="11.0" fill="#BEBEBE" stroke="none" stroke-width="0" />
<circle cx="927.2" cy="1883.1" r="11.0" fill="#BEBEBE" stroke="none" stroke-width="0" />
<circle cx="927.2" cy="1884.0" r="11.0" fill="#BEBEBE" stroke="none" stroke-width="0" />
<circle cx="935.0" cy="1884.0" r="11.0" fill="#BEBEBE" stroke="none" stroke-width="0" />
<circle cx="1040.0" cy="1884.0" r="11.0" fill="#BEBEBE" stroke="none" stroke-width="0" />
<circle cx="1046.4" cy="1876.6" r="11.0" fill="#BEBEBE" stroke="none" stroke-width="0" />
<circle cx="1046.4" cy="1883.6" r="11.0" fill="#BEBEBE" stroke="none" stroke-width="0" />
<circle cx="1046.4" cy="1884.0" r="11.0" fill="#BEBEBE" stroke="none" stroke-width="0" />
<circle cx="1053.0" cy="1869.1" r="11.0" fill="#BEBEBE" stroke="none" stroke-width="0" />
<circle cx="1053.0" cy="1876.1" r="11.0" fill="#BEBEBE" stroke="none" stroke-width="0" />
<circle cx="1053.0" cy="1883.1" r="11.0" fill="#BEBEBE" stroke="none" stroke-width="0" />
<circle cx="1053.0" cy="1884.0" r="11.0" fill="#BEBEBE" stroke="none" stroke-width="0" />
<circle cx="1059.7" cy="1861.6" r="11.0" fill="#BEBEBE" stroke="none" stroke-width="0" />
<circle cx="1059.7" cy="1868.6" r="11.0" fill="#BEBEBE" stroke="none" stroke-width="0" />
<circle cx="1059.7" cy="1875.6" r="11.0" fill="#BEBEBE" stroke="none" stroke-width="0" />
<circle cx="1059.7" cy="1882.6" r="11.0" fill="#BEBEBE" stroke="none" stroke-width="0" />
<circle cx="1059.7" cy="1884.0" r="11.0" fill="#BEBEBE" stroke="none" stroke-width="0" />
<circle cx="1066.3" cy="1854.1" r="11.0" fill="#BEBEBE" stroke="none" stroke-width="0" />
<circle cx="1066.3" cy="1861.1" r="11.0" fill="#BEBEBE" stroke="none" stroke-width="0" />
<circle cx="1066.3" cy="1868.1" r="11.0" fill="#BEBEBE" stroke="none" stroke-width="0" />
<circle cx="1066.3" cy="1875.1" r="11.0" fill="#BEBEBE" stroke="none" stroke-width="0" />
<circle cx="1066.3" cy="1882.1" r="11.0" fill="#BEBEBE" stroke="none" stroke-width="0" />
<circle cx="1066.3" cy="1884.0" r="11.0" fill="#BEBEBE" stroke="none" stroke-width="0" />
<circle cx="1072.6" cy="1848.9" r="11.0" fill="#BEBEBE" stroke="none" stroke-width="0" />
<circle cx="1072.6" cy="1855.9" r="11.0" fill="#BEBEBE" stroke="none" stroke-width="0" />
<circle cx="1072.6" cy="1862.9" r="11.0" fill="#BEBEBE" stroke="none" stroke-width="0" />
<circle cx="1072.6" cy="1869.9" r="11.0" fill="#BEBEBE" stroke="none" stroke-width="0" />
<circle cx="1072.6" cy="1876.9" r="11.0" fill="#BEBEBE" stroke="none" stroke-width="0" />
<circle cx="1072.6" cy="1883.9" r="11.0" fill="#BEBEBE" stroke="none" stroke-width="0" />
<circle cx="1072.6" cy="1884.0" r="11.0" fill="#BEBEBE" stroke="none" stroke-width="0" />
<circle cx="1079.0" cy="1843.7" r="11.0" fill="#BEBEBE" stroke="none" stroke-width="0" />
<circle cx="1079.0" cy="1850.7" r="11.0" fill="#BEBEBE" stroke="none" stroke-width="0" />
<circle cx="1079.0" cy="1857.7" r="11.0" fill="#BEBEBE" stroke="none" stroke-width="0" />
<circle cx="1079.0" cy="1864.7" r="11.0" fill="#BEBEBE" stroke="none" stroke-width="0" />
<circle cx="1079.0" cy="1871.7" r="11.0" fill="#BEBEBE" stroke="none" stroke-width="0" />
<circle cx="1079.0" cy="1878.7" r="11.0" fill="#BEBEBE" stroke="none" stroke-width="0" />
<circle cx="1079.0" cy="1884.0" r="11.0" fill="#BEBEBE" stroke="none" stroke-width="0" />
<circle cx="1085.3" cy="1838.5" r="11.0" fill="#BEBEBE" stroke="none" stroke-width="0" />
<circle cx="1085.3" cy="1845.5" r="11.0" fill="#BEBEBE" stroke="none" stroke-width="0" />
<circle cx="1085.3" cy="1852.5" r="11.0" fill="#BEBEBE" stroke="none" stroke-width="0" />
<circle cx="1085.3" cy="1859.5" r="11.0" fill="#BEBEBE" stroke="none" stroke-width="0" />
<circle cx="1085.3" cy="1866.5" r="11.0" fill="#BEBEBE" stroke="none" stroke-width="0" />
<circle cx="1085.3" cy="1873.5" r="11.0" fill="#BEBEBE" stroke="none" stroke-width="0" />
<circle cx="1085.3" cy="1880.5" r="11.0" fill="#BEBEBE" stroke="none" stroke-width="0" />
<circle cx="1085.3" cy="1884.0" r="11.0" fill="#BEBEBE" stroke="none" stroke-width="0" />
<circle cx="1090.5" cy="1832.5" r="11.0" fill="#BEBEBE" stroke="none" stroke-width="0" />
<circle cx="1090.5" cy="1839.5" r="11.0" fill="#BEBEBE" stroke="none" stroke-width="0" />
<circle cx="1090.5" cy="1846.5" r="11.0" fill="#BEBEBE" stroke="none" stroke-width="0" />
<circle cx="1090.5" cy="1853.5" r="11.0" fill="#BEBEBE" stroke="none" stroke-width="0" />
<circle cx="1090.5" cy="1860.5" r="11.0" fill="#BEBEBE" stroke="none" stroke-width="0" />
<circle cx="1090.5" cy="1867.5" r="11.0" fill="#BEBEBE" stroke="none" stroke-width="0" />
<circle cx="1090.5" cy="1874.5" r="11.0" fill="#BEBEBE" stroke="none" stroke-width="0" />
<circle cx="1090.5" cy="1881.5" r="11.0" fill="#BEBEBE" stroke="none" stroke-width="0" />
<circle cx="1090.5" cy="1884.0" r="11.0" fill="#BEBEBE" stroke="none" stroke-width="0" />
<circle cx="1095.7" cy="1826.4" r="11.0" fill="#BEBEBE" stroke="none" stroke-width="0" />
<circle cx="1095.7" cy="1833.4" r="11.0" fill="#BEBEBE" stroke="none" stroke-width="0" />
<circle cx="1095.7" cy="1840.4" r="11.0" fill="#BEBEBE" stroke="none" stroke-width="0" />
<circle cx="1095.7" cy="1847.4" r="11.0" fill="#BEBEBE" stroke="none" stroke-width="0" />
<circle cx="1095.7" cy="1854.4" r="11.0" fill="#BEBEBE" stroke="none" stroke-width="0" />
<circle cx="1095.7" cy="1861.4" r="11.0" fill="#BEBEBE" stroke="none" stroke-width="0" />
<circle cx="1095.7" cy="1868.4" r="11.0" fill="#BEBEBE" stroke="none" stroke-width="0" />
<circle cx="1095.7" cy="1875.4" r="11.0" fill="#BEBEBE" stroke="none" stroke-width="0" />
<circle cx="1095.7" cy="1882.4" r="11.0" fill="#BEBEBE" stroke="none" stroke-width="0" />
<circle cx="1095.7" cy="1884.0" r="11.0" fill="#BEBEBE" stroke="none" stroke-width="0" />
<circle cx="1100.0" cy="1822.9" r="11.0" fill="#BEBEBE" stroke="none" stroke-width="0" />
<circle cx="1100.0" cy="1829.9" r="11.0" fill="#BEBEBE" stroke="none" stroke-width="0" />
<circle cx="1100.0" cy="1836.9" r="11.0" fill="#BEBEBE" stroke="none" stroke-width="0" />
<circle cx="1100.0" cy="1843.9" r="11.0" fill="#BEBEBE" stroke="none" stroke-width="0" />
<circle cx="1100.0" cy="1850.9" r="11.0" fill="#BEBEBE" stroke="none" stroke-width="0" />
<circle cx="1100.0" cy="1857.9" r="11.0" fill="#BEBEBE" stroke="none" stroke-width="0" />
<circle cx="1100.0" cy="1864.9" r="11.0" fill="#BEBEBE" stroke="none" stroke-width="0" />
<circle cx="1100.0" cy="1871.9" r="11.0" fill="#BEBEBE" stroke="none" stroke-width="0" />
<circle cx="1100.0" cy="1878.9" r="11.0" fill="#BEBEBE" stroke="none" stroke-width="0" />
<circle cx="1100.0" cy="1884.0" r="11.0" fill="#BEBEBE" stroke="none" stroke-width="0" />
<circle cx="1105.0" cy="1840.0" r="11.0" fill="#BEBEBE" stroke="none" stroke-width="0" />
<circle cx="1105.0" cy="1847.0" r="11.0" fill="#BEBEBE" stroke="none" stroke-width="0" />
<circle cx="1105.0" cy="1854.0" r="11.0" fill="#BEBEBE" stroke="none" stroke-width="0" />
<circle cx="1105.0" cy="1861.0" r="11.0" fill="#BEBEBE" stroke="none" stroke-width="0" />
<circle cx="1105.0" cy="1868.0" r="11.0" fill="#BEBEBE" stroke="none" stroke-width="0" />
<circle cx="1105.0" cy="1875.0" r="11.0" fill="#BEBEBE" stroke="none" stroke-width="0" />
<circle cx="1105.0" cy="1882.0" r="11.0" fill="#BEBEBE" stroke="none" stroke-width="0" />
<circle cx="1105.0" cy="1884.0" r="11.0" fill="#BEBEBE" stroke="none" stroke-width="0" />
<circle cx="1100.9" cy="1846.3" r="11.0" fill="#BEBEBE" stroke="none" stroke-width="0" />
<circle cx="1100.9" cy="1853.3" r="11.0" fill="#BEBEBE" stroke="none" stroke-width="0" />
<circle cx="1100.9" cy="1860.3" r="11.0" fill="#BEBEBE" stroke="none" stroke-width="0" />
<circle cx="1100.9" cy="1867.3" r="11.0" fill="#BEBEBE" stroke="none" stroke-width="0" />
<circle cx="1100.9" cy="1874.3" r="11.0" fill="#BEBEBE" stroke="none" stroke-width="0" />
<circle cx="1100.9" cy="1881.3" r="11.0" fill="#BEBEBE" stroke="none" stroke-width="0" />
<circle cx="1100.9" cy="1884.0" r="11.0" fill="#BEBEBE" stroke="none" stroke-width="0" />
<circle cx="1110.0" cy="1858.0" r="11.0" fill="#BEBEBE" stroke="none" stroke-width="0" />
<circle cx="1110.0" cy="1865.0" r="11.0" fill="#BEBEBE" stroke="none" stroke-width="0" />
<circle cx="1110.0" cy="1872.0" r="11.0" fill="#BEBEBE" stroke="none" stroke-width="0" />
<circle cx="1110.0" cy="1879.0" r="11.0" fill="#BEBEBE" stroke="none" stroke-width="0" />
<circle cx="1110.0" cy="1884.0" r="11.0" fill="#BEBEBE" stroke="none" stroke-width="0" />
<circle cx="1114.8" cy="1869.7" r="11.0" fill="#BEBEBE" stroke="none" stroke-width="0" />
<circle cx="1114.8" cy="1876.7" r="11.0" fill="#BEBEBE" stroke="none" stroke-width="0" />
<circle cx="1114.8" cy="1883.7" r="11.0" fill="#BEBEBE" stroke="none" stroke-width="0" />
<circle cx="1114.8" cy="1884.0" r="11.0" fill="#BEBEBE" stroke="none" stroke-width="0" />
<circle cx="1118.0" cy="1884.0" r="11.0" fill="#BEBEBE" stroke="none" stroke-width="0" />
<circle cx="829.7" cy="1768.0" r="10.6" fill="#BEBEBE" stroke="#B7B7B7" stroke-width="1.2" />
<circle cx="874.7" cy="1769.7" r="10.6" fill="#BEBEBE" stroke="#B7B7B7" stroke-width="1.2" />
<circle cx="1181.2" cy="1769.7" r="10.6" fill="#BEBEBE" stroke="#B7B7B7" stroke-width="1.2" />
<circle cx="885.1" cy="1816.1" r="10.6" fill="#BEBEBE" stroke="#B7B7B7" stroke-width="1.2" />
<circle cx="871.8" cy="1864.2" r="10.6" fill="#BEBEBE" stroke="#B7B7B7" stroke-width="1.2" />
<circle cx="899.5" cy="1859.2" r="10.6" fill="#BEBEBE" stroke="#B7B7B7" stroke-width="1.2" />
<circle cx="892.6" cy="1890.9" r="10.6" fill="#BEBEBE" stroke="#B7B7B7" stroke-width="1.2" />
<circle cx="1118.2" cy="1816.8" r="10.6" fill="#BEBEBE" stroke="#B7B7B7" stroke-width="1.2" />
<circle cx="1124.3" cy="1846.3" r="10.6" fill="#BEBEBE" stroke="#B7B7B7" stroke-width="1.2" />
<circle cx="1123.4" cy="1884.4" r="10.6" fill="#BEBEBE" stroke="#B7B7B7" stroke-width="1.2" />
<line x1="848.7" y1="1352.7" x2="848.7" y2="1907.6" stroke="#B9B9B9" stroke-width="3.8" stroke-dasharray="4 13.9 18.5 13.85"/>
<line x1="1130.1" y1="1352.7" x2="1130.1" y2="1907.6" stroke="#B9B9B9" stroke-width="3.8" stroke-dasharray="4 13.9 18.5 13.85"/>
<line x1="674.5" y1="1744.3" x2="1203.6" y2="1744.3" stroke="#B9B9B9" stroke-width="3.8" stroke-dasharray="4 13.9 18.5 13.85"/>
<circle cx="785.4" cy="1418.4" r="10.8" fill="rgba(255,69,0,0.8)" stroke="rgba(228,70,12,0.9)" stroke-width="2.4" />
<circle cx="793.3" cy="1673.8" r="10.8" fill="rgba(255,69,0,0.8)" stroke="rgba(228,70,12,0.9)" stroke-width="2.4" />
<circle cx="810.0" cy="1724.7" r="10.8" fill="rgba(255,69,0,0.8)" stroke="rgba(228,70,12,0.9)" stroke-width="2.4" />
<circle cx="1169.1" cy="1724.7" r="10.8" fill="rgba(30,144,255,0.8)" stroke="rgba(25,120,220,0.9)" stroke-width="2.4" />
<text x="697.23" y="1471.40" font-size="32.00" textLength="242.95" lengthAdjust="spacingAndGlyphs" fill="#E4521C">Leu_CAG−39_86</text>
<text x="923.30" y="1738.50" font-size="32.50" textLength="236.33" lengthAdjust="spacingAndGlyphs" fill="#2B87DA">Glu_TTC−33_74</text>
<rect x="674.5" y="1312.1" width="531.0" height="40.6" fill="#D9D9D9" stroke="none" stroke-width="0" />
<rect x="674.5" y="1312.1" width="531.0" height="597.4" fill="none" stroke="#333" stroke-width="3.8" />
<line x1="674.5" y1="1352.7" x2="1205.5" y2="1352.7" stroke="#333" stroke-width="3.8" />
<text x="797.23" y="1344.30" font-size="32.30" textLength="335.15" lengthAdjust="spacingAndGlyphs">3’−tRF-Half  (3’-tiRNA)</text>
<line x1="707.9" y1="1909.5" x2="707.9" y2="1916.5" stroke="#333" stroke-width="3" />
<text x="682.8" y="1947.9" font-size="29.2" fill="#4D4D4D" >−2</text>
<line x1="848.7" y1="1909.5" x2="848.7" y2="1916.5" stroke="#333" stroke-width="3" />
<text x="823.5" y="1947.9" font-size="29.2" fill="#4D4D4D" >−1</text>
<line x1="989.4" y1="1909.5" x2="989.4" y2="1916.5" stroke="#333" stroke-width="3" />
<text x="981.3" y="1947.9" font-size="29.2" fill="#4D4D4D" >0</text>
<line x1="1130.1" y1="1909.5" x2="1130.1" y2="1916.5" stroke="#333" stroke-width="3" />
<text x="1122.0" y="1947.9" font-size="29.2" fill="#4D4D4D" >1</text>
<text x="766.72" y="1978.50" font-size="27.50" textLength="357.91" lengthAdjust="spacingAndGlyphs">log2 ( Young/Old  fold change)</text>
<line x1="123.7" y1="1272.2" x2="130.7" y2="1272.2" stroke="#333" stroke-width="3" />
<text x="97.8" y="1281.8" font-size="29.2" fill="#4D4D4D" >0</text>
<line x1="123.7" y1="1132.3" x2="130.7" y2="1132.3" stroke="#333" stroke-width="3" />
<text x="98.1" y="1141.9" font-size="29.2" fill="#4D4D4D" >2</text>
<line x1="123.7" y1="992.4" x2="130.7" y2="992.4" stroke="#333" stroke-width="3" />
<text x="97.5" y="1002.0" font-size="29.2" fill="#4D4D4D" >4</text>
<line x1="123.7" y1="852.5" x2="130.7" y2="852.5" stroke="#333" stroke-width="3" />
<text x="97.9" y="862.1" font-size="29.2" fill="#4D4D4D" >6</text>
<line x1="123.7" y1="1884.2" x2="130.7" y2="1884.2" stroke="#333" stroke-width="3" />
<text x="97.8" y="1896.3" font-size="29.2" fill="#4D4D4D" >0</text>
<line x1="123.7" y1="1744.3" x2="130.7" y2="1744.3" stroke="#333" stroke-width="3" />
<text x="98.1" y="1756.4" font-size="29.2" fill="#4D4D4D" >2</text>
<line x1="123.7" y1="1604.4" x2="130.7" y2="1604.4" stroke="#333" stroke-width="3" />
<text x="97.5" y="1616.5" font-size="29.2" fill="#4D4D4D" >4</text>
<line x1="123.7" y1="1464.5" x2="130.7" y2="1464.5" stroke="#333" stroke-width="3" />
<text x="97.9" y="1476.6" font-size="29.2" fill="#4D4D4D" >6</text>
<text transform="translate(80.90,1139.41) rotate(-90)" font-size="29.00" textLength="206.45" lengthAdjust="spacingAndGlyphs">−log10 (q− value)</text>
<text transform="translate(80.50,1745.33) rotate(-90)" font-size="29.00" textLength="210.00" lengthAdjust="spacingAndGlyphs">−log10 (q− value)</text>
</g>
<g id="pd">
<text x="1291.6" y="1433.3" font-size="36" font-weight="bold" >d</text>
<text x="1360.18" y="1474.10" font-size="31.70" textLength="402.80" lengthAdjust="spacingAndGlyphs">Old-Young tRNA expression</text>
<line x1="1372.9" y1="1799.1" x2="1745.0" y2="1799.1" stroke="#F2F2F2" stroke-width="1" />
<line x1="1432.1" y1="1496.5" x2="1432.1" y2="1856.0" stroke="#F2F2F2" stroke-width="1" />
<line x1="1372.9" y1="1717.4" x2="1745.0" y2="1717.4" stroke="#F2F2F2" stroke-width="1" />
<line x1="1516.5" y1="1496.5" x2="1516.5" y2="1856.0" stroke="#F2F2F2" stroke-width="1" />
<line x1="1372.9" y1="1635.7" x2="1745.0" y2="1635.7" stroke="#F2F2F2" stroke-width="1" />
<line x1="1601.0" y1="1496.5" x2="1601.0" y2="1856.0" stroke="#F2F2F2" stroke-width="1" />
<line x1="1372.9" y1="1554.0" x2="1745.0" y2="1554.0" stroke="#F2F2F2" stroke-width="1" />
<line x1="1685.4" y1="1496.5" x2="1685.4" y2="1856.0" stroke="#F2F2F2" stroke-width="1" />
<line x1="1372.9" y1="1839.9" x2="1745.0" y2="1839.9" stroke="#E6E6E6" stroke-width="1.8" />
<line x1="1389.9" y1="1496.5" x2="1389.9" y2="1856.0" stroke="#E6E6E6" stroke-width="1.8" />
<line x1="1372.9" y1="1758.2" x2="1745.0" y2="1758.2" stroke="#E6E6E6" stroke-width="1.8" />
<line x1="1474.3" y1="1496.5" x2="1474.3" y2="1856.0" stroke="#E6E6E6" stroke-width="1.8" />
<line x1="1372.9" y1="1676.6" x2="1745.0" y2="1676.6" stroke="#E6E6E6" stroke-width="1.8" />
<line x1="1558.8" y1="1496.5" x2="1558.8" y2="1856.0" stroke="#E6E6E6" stroke-width="1.8" />
<line x1="1372.9" y1="1594.9" x2="1745.0" y2="1594.9" stroke="#E6E6E6" stroke-width="1.8" />
<line x1="1643.2" y1="1496.5" x2="1643.2" y2="1856.0" stroke="#E6E6E6" stroke-width="1.8" />
<line x1="1372.9" y1="1513.2" x2="1745.0" y2="1513.2" stroke="#E6E6E6" stroke-width="1.8" />
<line x1="1727.6" y1="1496.5" x2="1727.6" y2="1856.0" stroke="#E6E6E6" stroke-width="1.8" />
<line x1="1372.9" y1="1856.0" x2="1745.0" y2="1496.5" stroke="#A8A8A8" stroke-width="1.4" />
<circle cx="1403.4" cy="1816.4" r="2.9" fill="#E54850" stroke="#C63A41" stroke-width="0.8" />
<circle cx="1711.7" cy="1522.8" r="2.9" fill="#E54850" stroke="#C63A41" stroke-width="0.8" />
<circle cx="1440.4" cy="1774.6" r="2.9" fill="#E54850" stroke="#C63A41" stroke-width="0.8" />
<circle cx="1446.3" cy="1787.6" r="2.9" fill="#E54850" stroke="#C63A41" stroke-width="0.8" />
<circle cx="1447.0" cy="1764.8" r="2.9" fill="#E54850" stroke="#C63A41" stroke-width="0.8" />
<circle cx="1453.9" cy="1766.4" r="2.9" fill="#E54850" stroke="#C63A41" stroke-width="0.8" />
<circle cx="1453.9" cy="1774.6" r="2.9" fill="#E54850" stroke="#C63A41" stroke-width="0.8" />
<circle cx="1454.6" cy="1784.4" r="2.9" fill="#E54850" stroke="#C63A41" stroke-width="0.8" />
<circle cx="1467.7" cy="1758.4" r="2.9" fill="#E54850" stroke="#C63A41" stroke-width="0.8" />
<circle cx="1468.4" cy="1749.7" r="2.9" fill="#E54850" stroke="#C63A41" stroke-width="0.8" />
<circle cx="1473.1" cy="1750.4" r="2.9" fill="#E54850" stroke="#C63A41" stroke-width="0.8" />
<circle cx="1474.2" cy="1739.1" r="2.9" fill="#E54850" stroke="#C63A41" stroke-width="0.8" />
<circle cx="1480.6" cy="1742.4" r="2.9" fill="#E54850" stroke="#C63A41" stroke-width="0.8" />
<circle cx="1483.8" cy="1746.3" r="2.9" fill="#E54850" stroke="#C63A41" stroke-width="0.8" />
<circle cx="1494.4" cy="1744.7" r="2.9" fill="#E54850" stroke="#C63A41" stroke-width="0.8" />
<circle cx="1573.3" cy="1672.0" r="2.9" fill="#E54850" stroke="#C63A41" stroke-width="0.8" />
<circle cx="1586.1" cy="1641.4" r="2.9" fill="#E54850" stroke="#C63A41" stroke-width="0.8" />
<circle cx="1597.6" cy="1625.9" r="2.9" fill="#E54850" stroke="#C63A41" stroke-width="0.8" />
<circle cx="1585.8" cy="1639.0" r="2.9" fill="#E54850" stroke="#C63A41" stroke-width="0.8" />
<circle cx="1599.3" cy="1624.3" r="2.9" fill="#E54850" stroke="#C63A41" stroke-width="0.8" />
<circle cx="1602.2" cy="1635.1" r="2.9" fill="#E54850" stroke="#C63A41" stroke-width="0.8" />
<circle cx="1616.0" cy="1622.1" r="2.9" fill="#E54850" stroke="#C63A41" stroke-width="0.8" />
<circle cx="1512.6" cy="1710.9" r="2.9" fill="#E54850" stroke="#C63A41" stroke-width="0.8" />
<circle cx="1495.0" cy="1730.1" r="2.9" fill="#E54850" stroke="#C63A41" stroke-width="0.8" />
<circle cx="1645.6" cy="1591.1" r="2.9" fill="#E54850" stroke="#C63A41" stroke-width="0.8" />
<circle cx="1653.3" cy="1583.7" r="2.9" fill="#E54850" stroke="#C63A41" stroke-width="0.8" />
<circle cx="1618.0" cy="1618.4" r="2.9" fill="#E54850" stroke="#C63A41" stroke-width="0.8" />
<circle cx="1667.4" cy="1571.5" r="2.9" fill="#E54850" stroke="#C63A41" stroke-width="0.8" />
<circle cx="1537.6" cy="1691.5" r="2.9" fill="#E54850" stroke="#C63A41" stroke-width="0.8" />
<circle cx="1554.0" cy="1672.5" r="2.9" fill="#E54850" stroke="#C63A41" stroke-width="0.8" />
<circle cx="1616.4" cy="1621.7" r="2.9" fill="#E54850" stroke="#C63A41" stroke-width="0.8" />
<circle cx="1499.9" cy="1726.4" r="2.9" fill="#E54850" stroke="#C63A41" stroke-width="0.8" />
<circle cx="1620.0" cy="1618.8" r="2.9" fill="#E54850" stroke="#C63A41" stroke-width="0.8" />
<circle cx="1611.8" cy="1621.9" r="2.9" fill="#E54850" stroke="#C63A41" stroke-width="0.8" />
<circle cx="1682.6" cy="1556.6" r="2.9" fill="#E54850" stroke="#C63A41" stroke-width="0.8" />
<circle cx="1648.7" cy="1585.9" r="2.9" fill="#E54850" stroke="#C63A41" stroke-width="0.8" />
<circle cx="1611.0" cy="1624.6" r="2.9" fill="#E54850" stroke="#C63A41" stroke-width="0.8" />
<circle cx="1641.1" cy="1597.1" r="2.9" fill="#E54850" stroke="#C63A41" stroke-width="0.8" />
<circle cx="1550.8" cy="1675.5" r="2.9" fill="#E54850" stroke="#C63A41" stroke-width="0.8" />
<circle cx="1629.3" cy="1607.3" r="2.9" fill="#E54850" stroke="#C63A41" stroke-width="0.8" />
<circle cx="1668.3" cy="1571.8" r="2.9" fill="#E54850" stroke="#C63A41" stroke-width="0.8" />
<circle cx="1621.8" cy="1619.1" r="2.9" fill="#E54850" stroke="#C63A41" stroke-width="0.8" />
<circle cx="1691.8" cy="1551.9" r="2.9" fill="#E54850" stroke="#C63A41" stroke-width="0.8" />
<circle cx="1520.8" cy="1705.2" r="2.9" fill="#E54850" stroke="#C63A41" stroke-width="0.8" />
<circle cx="1656.2" cy="1581.2" r="2.9" fill="#E54850" stroke="#C63A41" stroke-width="0.8" />
<circle cx="1635.4" cy="1604.4" r="2.9" fill="#E54850" stroke="#C63A41" stroke-width="0.8" />
<circle cx="1510.7" cy="1715.0" r="2.9" fill="#E54850" stroke="#C63A41" stroke-width="0.8" />
<circle cx="1523.6" cy="1702.0" r="2.9" fill="#E54850" stroke="#C63A41" stroke-width="0.8" />
<circle cx="1501.7" cy="1728.8" r="2.9" fill="#E54850" stroke="#C63A41" stroke-width="0.8" />
<circle cx="1510.2" cy="1712.6" r="2.9" fill="#E54850" stroke="#C63A41" stroke-width="0.8" />
<circle cx="1649.2" cy="1586.7" r="2.9" fill="#E54850" stroke="#C63A41" stroke-width="0.8" />
<circle cx="1548.1" cy="1686.3" r="2.9" fill="#E54850" stroke="#C63A41" stroke-width="0.8" />
<circle cx="1649.3" cy="1587.5" r="2.9" fill="#E54850" stroke="#C63A41" stroke-width="0.8" />
<circle cx="1541.6" cy="1686.2" r="2.9" fill="#E54850" stroke="#C63A41" stroke-width="0.8" />
<circle cx="1550.6" cy="1681.4" r="2.9" fill="#E54850" stroke="#C63A41" stroke-width="0.8" />
<circle cx="1508.9" cy="1718.6" r="2.9" fill="#E54850" stroke="#C63A41" stroke-width="0.8" />
<circle cx="1628.9" cy="1604.7" r="2.9" fill="#E54850" stroke="#C63A41" stroke-width="0.8" />
<circle cx="1632.1" cy="1606.8" r="2.9" fill="#E54850" stroke="#C63A41" stroke-width="0.8" />
<circle cx="1596.0" cy="1636.6" r="2.9" fill="#E54850" stroke="#C63A41" stroke-width="0.8" />
<circle cx="1686.3" cy="1556.0" r="2.9" fill="#E54850" stroke="#C63A41" stroke-width="0.8" />
<circle cx="1618.1" cy="1616.0" r="2.9" fill="#E54850" stroke="#C63A41" stroke-width="0.8" />
<circle cx="1494.1" cy="1729.4" r="2.9" fill="#E54850" stroke="#C63A41" stroke-width="0.8" />
<circle cx="1539.2" cy="1688.6" r="2.9" fill="#E54850" stroke="#C63A41" stroke-width="0.8" />
<circle cx="1497.6" cy="1727.6" r="2.9" fill="#E54850" stroke="#C63A41" stroke-width="0.8" />
<circle cx="1506.6" cy="1714.1" r="2.9" fill="#E54850" stroke="#C63A41" stroke-width="0.8" />
<circle cx="1602.1" cy="1633.8" r="2.9" fill="#E54850" stroke="#C63A41" stroke-width="0.8" />
<circle cx="1545.7" cy="1683.8" r="2.9" fill="#E54850" stroke="#C63A41" stroke-width="0.8" />
<circle cx="1693.6" cy="1545.0" r="2.9" fill="#E54850" stroke="#C63A41" stroke-width="0.8" />
<circle cx="1623.6" cy="1612.7" r="2.9" fill="#E54850" stroke="#C63A41" stroke-width="0.8" />
<circle cx="1609.5" cy="1626.8" r="2.9" fill="#E54850" stroke="#C63A41" stroke-width="0.8" />
<circle cx="1662.7" cy="1569.3" r="2.9" fill="#E54850" stroke="#C63A41" stroke-width="0.8" />
<circle cx="1601.9" cy="1633.8" r="2.9" fill="#E54850" stroke="#C63A41" stroke-width="0.8" />
<circle cx="1594.3" cy="1649.8" r="2.9" fill="#E54850" stroke="#C63A41" stroke-width="0.8" />
<circle cx="1682.5" cy="1558.1" r="2.9" fill="#E54850" stroke="#C63A41" stroke-width="0.8" />
<circle cx="1546.4" cy="1680.1" r="2.9" fill="#E54850" stroke="#C63A41" stroke-width="0.8" />
<circle cx="1642.5" cy="1591.4" r="2.9" fill="#E54850" stroke="#C63A41" stroke-width="0.8" />
<circle cx="1606.8" cy="1627.0" r="2.9" fill="#E54850" stroke="#C63A41" stroke-width="0.8" />
<circle cx="1686.6" cy="1560.3" r="2.9" fill="#E54850" stroke="#C63A41" stroke-width="0.8" />
<circle cx="1684.2" cy="1554.7" r="2.9" fill="#E54850" stroke="#C63A41" stroke-width="0.8" />
<circle cx="1594.4" cy="1638.8" r="2.9" fill="#E54850" stroke="#C63A41" stroke-width="0.8" />
<circle cx="1503.0" cy="1723.4" r="2.9" fill="#E54850" stroke="#C63A41" stroke-width="0.8" />
<circle cx="1673.3" cy="1561.5" r="2.9" fill="#E54850" stroke="#C63A41" stroke-width="0.8" />
<circle cx="1693.4" cy="1543.8" r="2.9" fill="#E54850" stroke="#C63A41" stroke-width="0.8" />
<circle cx="1541.5" cy="1686.7" r="2.9" fill="#E54850" stroke="#C63A41" stroke-width="0.8" />
<circle cx="1540.7" cy="1690.9" r="2.9" fill="#E54850" stroke="#C63A41" stroke-width="0.8" />
<circle cx="1674.5" cy="1568.8" r="2.9" fill="#E54850" stroke="#C63A41" stroke-width="0.8" />
<circle cx="1643.8" cy="1590.7" r="2.9" fill="#E54850" stroke="#C63A41" stroke-width="0.8" />
<circle cx="1685.7" cy="1551.6" r="2.9" fill="#E54850" stroke="#C63A41" stroke-width="0.8" />
<circle cx="1623.2" cy="1612.1" r="2.9" fill="#E54850" stroke="#C63A41" stroke-width="0.8" />
<circle cx="1643.9" cy="1589.8" r="2.9" fill="#E54850" stroke="#C63A41" stroke-width="0.8" />
<circle cx="1671.4" cy="1573.1" r="2.9" fill="#E54850" stroke="#C63A41" stroke-width="0.8" />
<circle cx="1603.4" cy="1629.4" r="2.9" fill="#E54850" stroke="#C63A41" stroke-width="0.8" />
<circle cx="1497.6" cy="1724.2" r="2.9" fill="#E54850" stroke="#C63A41" stroke-width="0.8" />
<circle cx="1562.7" cy="1674.2" r="2.9" fill="#E54850" stroke="#C63A41" stroke-width="0.8" />
<circle cx="1681.1" cy="1560.3" r="2.9" fill="#E54850" stroke="#C63A41" stroke-width="0.8" />
<circle cx="1491.8" cy="1731.1" r="2.9" fill="#E54850" stroke="#C63A41" stroke-width="0.8" />
<circle cx="1680.8" cy="1564.8" r="2.9" fill="#E54850" stroke="#C63A41" stroke-width="0.8" />
<circle cx="1648.5" cy="1590.8" r="2.9" fill="#E54850" stroke="#C63A41" stroke-width="0.8" />
<circle cx="1664.5" cy="1574.2" r="2.9" fill="#E54850" stroke="#C63A41" stroke-width="0.8" />
<circle cx="1554.2" cy="1674.9" r="2.9" fill="#E54850" stroke="#C63A41" stroke-width="0.8" />
<circle cx="1548.3" cy="1677.0" r="2.9" fill="#E54850" stroke="#C63A41" stroke-width="0.8" />
<circle cx="1621.9" cy="1611.0" r="2.9" fill="#E54850" stroke="#C63A41" stroke-width="0.8" />
<circle cx="1650.5" cy="1593.2" r="2.9" fill="#E54850" stroke="#C63A41" stroke-width="0.8" />
<circle cx="1626.6" cy="1607.9" r="2.9" fill="#E54850" stroke="#C63A41" stroke-width="0.8" />
<circle cx="1593.7" cy="1644.4" r="2.9" fill="#E54850" stroke="#C63A41" stroke-width="0.8" />
<circle cx="1524.9" cy="1701.3" r="2.9" fill="#E54850" stroke="#C63A41" stroke-width="0.8" />
<circle cx="1550.2" cy="1680.4" r="2.9" fill="#E54850" stroke="#C63A41" stroke-width="0.8" />
<circle cx="1625.8" cy="1615.2" r="2.9" fill="#E54850" stroke="#C63A41" stroke-width="0.8" />
<circle cx="1642.8" cy="1592.4" r="2.9" fill="#E54850" stroke="#C63A41" stroke-width="0.8" />
<circle cx="1543.2" cy="1682.4" r="2.9" fill="#E54850" stroke="#C63A41" stroke-width="0.8" />
<circle cx="1625.1" cy="1616.7" r="2.9" fill="#E54850" stroke="#C63A41" stroke-width="0.8" />
<circle cx="1673.1" cy="1567.7" r="2.9" fill="#E54850" stroke="#C63A41" stroke-width="0.8" />
<circle cx="1625.0" cy="1616.8" r="2.9" fill="#E54850" stroke="#C63A41" stroke-width="0.8" />
<circle cx="1626.7" cy="1611.1" r="2.9" fill="#E54850" stroke="#C63A41" stroke-width="0.8" />
<circle cx="1652.9" cy="1587.2" r="2.9" fill="#E54850" stroke="#C63A41" stroke-width="0.8" />
<circle cx="1666.3" cy="1577.9" r="2.9" fill="#E54850" stroke="#C63A41" stroke-width="0.8" />
<circle cx="1653.0" cy="1584.5" r="2.9" fill="#E54850" stroke="#C63A41" stroke-width="0.8" />
<circle cx="1509.9" cy="1717.8" r="2.9" fill="#E54850" stroke="#C63A41" stroke-width="0.8" />
<circle cx="1501.4" cy="1721.0" r="2.9" fill="#E54850" stroke="#C63A41" stroke-width="0.8" />
<circle cx="1690.0" cy="1547.7" r="2.9" fill="#E54850" stroke="#C63A41" stroke-width="0.8" />
<circle cx="1558.8" cy="1674.9" r="2.9" fill="#E54850" stroke="#C63A41" stroke-width="0.8" />
<circle cx="1692.6" cy="1548.3" r="2.9" fill="#E54850" stroke="#C63A41" stroke-width="0.8" />
<circle cx="1567.2" cy="1671.0" r="2.9" fill="#E54850" stroke="#C63A41" stroke-width="0.8" />
<circle cx="1687.6" cy="1550.0" r="2.9" fill="#E54850" stroke="#C63A41" stroke-width="0.8" />
<circle cx="1548.7" cy="1683.4" r="2.9" fill="#E54850" stroke="#C63A41" stroke-width="0.8" />
<circle cx="1544.7" cy="1683.9" r="2.9" fill="#E54850" stroke="#C63A41" stroke-width="0.8" />
<circle cx="1593.8" cy="1645.5" r="2.9" fill="#E54850" stroke="#C63A41" stroke-width="0.8" />
<circle cx="1505.2" cy="1722.0" r="2.9" fill="#E54850" stroke="#C63A41" stroke-width="0.8" />
<circle cx="1625.4" cy="1604.7" r="2.9" fill="#E54850" stroke="#C63A41" stroke-width="0.8" />
<circle cx="1692.8" cy="1543.7" r="2.9" fill="#E54850" stroke="#C63A41" stroke-width="0.8" />
<circle cx="1502.4" cy="1719.0" r="2.9" fill="#E54850" stroke="#C63A41" stroke-width="0.8" />
<circle cx="1538.0" cy="1688.1" r="2.9" fill="#E54850" stroke="#C63A41" stroke-width="0.8" />
<circle cx="1651.0" cy="1586.4" r="2.9" fill="#E54850" stroke="#C63A41" stroke-width="0.8" />
<circle cx="1566.0" cy="1671.1" r="2.9" fill="#E54850" stroke="#C63A41" stroke-width="0.8" />
<circle cx="1637.5" cy="1599.6" r="2.9" fill="#E54850" stroke="#C63A41" stroke-width="0.8" />
<circle cx="1619.8" cy="1617.0" r="2.9" fill="#E54850" stroke="#C63A41" stroke-width="0.8" />
<circle cx="1530.8" cy="1699.5" r="2.9" fill="#E54850" stroke="#C63A41" stroke-width="0.8" />
<circle cx="1527.4" cy="1703.3" r="2.9" fill="#E54850" stroke="#C63A41" stroke-width="0.8" />
<circle cx="1527.6" cy="1701.7" r="2.9" fill="#E54850" stroke="#C63A41" stroke-width="0.8" />
<circle cx="1652.0" cy="1585.6" r="2.9" fill="#E54850" stroke="#C63A41" stroke-width="0.8" />
<circle cx="1538.0" cy="1691.3" r="2.9" fill="#E54850" stroke="#C63A41" stroke-width="0.8" />
<circle cx="1498.0" cy="1728.3" r="2.9" fill="#E54850" stroke="#C63A41" stroke-width="0.8" />
<circle cx="1499.7" cy="1727.2" r="2.9" fill="#E54850" stroke="#C63A41" stroke-width="0.8" />
<circle cx="1611.1" cy="1623.7" r="2.9" fill="#E54850" stroke="#C63A41" stroke-width="0.8" />
<circle cx="1603.9" cy="1633.1" r="2.9" fill="#E54850" stroke="#C63A41" stroke-width="0.8" />
<circle cx="1534.0" cy="1692.7" r="2.9" fill="#E54850" stroke="#C63A41" stroke-width="0.8" />
<circle cx="1627.9" cy="1608.5" r="2.9" fill="#E54850" stroke="#C63A41" stroke-width="0.8" />
<circle cx="1660.6" cy="1575.1" r="2.9" fill="#E54850" stroke="#C63A41" stroke-width="0.8" />
<circle cx="1672.7" cy="1571.5" r="2.9" fill="#E54850" stroke="#C63A41" stroke-width="0.8" />
<circle cx="1625.0" cy="1612.3" r="2.9" fill="#E54850" stroke="#C63A41" stroke-width="0.8" />
<circle cx="1655.6" cy="1585.8" r="2.9" fill="#E54850" stroke="#C63A41" stroke-width="0.8" />
<circle cx="1633.3" cy="1600.0" r="2.9" fill="#E54850" stroke="#C63A41" stroke-width="0.8" />
<circle cx="1614.8" cy="1620.9" r="2.9" fill="#E54850" stroke="#C63A41" stroke-width="0.8" />
<circle cx="1522.5" cy="1703.8" r="2.9" fill="#E54850" stroke="#C63A41" stroke-width="0.8" />
<circle cx="1539.2" cy="1683.5" r="2.9" fill="#E54850" stroke="#C63A41" stroke-width="0.8" />
<circle cx="1681.6" cy="1555.0" r="2.9" fill="#E54850" stroke="#C63A41" stroke-width="0.8" />
<circle cx="1574.6" cy="1662.0" r="2.9" fill="#E54850" stroke="#C63A41" stroke-width="0.8" />
<circle cx="1549.2" cy="1677.6" r="2.9" fill="#E54850" stroke="#C63A41" stroke-width="0.8" />
<circle cx="1567.5" cy="1664.6" r="2.9" fill="#E54850" stroke="#C63A41" stroke-width="0.8" />
<circle cx="1567.7" cy="1668.5" r="2.9" fill="#E54850" stroke="#C63A41" stroke-width="0.8" />
<circle cx="1577.3" cy="1655.9" r="2.9" fill="#E54850" stroke="#C63A41" stroke-width="0.8" />
<circle cx="1624.8" cy="1612.7" r="2.9" fill="#E54850" stroke="#C63A41" stroke-width="0.8" />
<circle cx="1551.3" cy="1677.0" r="2.9" fill="#E54850" stroke="#C63A41" stroke-width="0.8" />
<circle cx="1508.1" cy="1718.2" r="2.9" fill="#E54850" stroke="#C63A41" stroke-width="0.8" />
<circle cx="1492.2" cy="1734.3" r="2.9" fill="#E54850" stroke="#C63A41" stroke-width="0.8" />
<circle cx="1626.5" cy="1609.1" r="2.9" fill="#E54850" stroke="#C63A41" stroke-width="0.8" />
<circle cx="1634.7" cy="1604.3" r="2.9" fill="#E54850" stroke="#C63A41" stroke-width="0.8" />
<circle cx="1613.4" cy="1629.2" r="2.9" fill="#E54850" stroke="#C63A41" stroke-width="0.8" />
<circle cx="1662.2" cy="1577.1" r="2.9" fill="#E54850" stroke="#C63A41" stroke-width="0.8" />
<circle cx="1526.5" cy="1704.4" r="2.9" fill="#E54850" stroke="#C63A41" stroke-width="0.8" />
<circle cx="1680.0" cy="1559.8" r="2.9" fill="#E54850" stroke="#C63A41" stroke-width="0.8" />
<circle cx="1513.3" cy="1718.2" r="2.9" fill="#E54850" stroke="#C63A41" stroke-width="0.8" />
<circle cx="1646.1" cy="1590.3" r="2.9" fill="#E54850" stroke="#C63A41" stroke-width="0.8" />
<circle cx="1649.8" cy="1593.4" r="2.9" fill="#E54850" stroke="#C63A41" stroke-width="0.8" />
<circle cx="1637.0" cy="1600.8" r="2.9" fill="#E54850" stroke="#C63A41" stroke-width="0.8" />
<circle cx="1506.4" cy="1719.1" r="2.9" fill="#E54850" stroke="#C63A41" stroke-width="0.8" />
<circle cx="1526.5" cy="1704.0" r="2.9" fill="#E54850" stroke="#C63A41" stroke-width="0.8" />
<circle cx="1636.2" cy="1603.0" r="2.9" fill="#E54850" stroke="#C63A41" stroke-width="0.8" />
<circle cx="1592.7" cy="1642.3" r="2.9" fill="#E54850" stroke="#C63A41" stroke-width="0.8" />
<circle cx="1626.9" cy="1615.1" r="2.9" fill="#E54850" stroke="#C63A41" stroke-width="0.8" />
<circle cx="1596.8" cy="1640.0" r="2.9" fill="#E54850" stroke="#C63A41" stroke-width="0.8" />
<circle cx="1502.4" cy="1725.8" r="2.9" fill="#E54850" stroke="#C63A41" stroke-width="0.8" />
<circle cx="1605.7" cy="1631.6" r="2.9" fill="#E54850" stroke="#C63A41" stroke-width="0.8" />
<circle cx="1617.1" cy="1627.7" r="2.9" fill="#E54850" stroke="#C63A41" stroke-width="0.8" />
<circle cx="1636.4" cy="1601.0" r="2.9" fill="#E54850" stroke="#C63A41" stroke-width="0.8" />
<circle cx="1597.5" cy="1642.9" r="2.9" fill="#E54850" stroke="#C63A41" stroke-width="0.8" />
<circle cx="1542.4" cy="1685.3" r="2.9" fill="#E54850" stroke="#C63A41" stroke-width="0.8" />
<circle cx="1593.3" cy="1645.5" r="2.9" fill="#E54850" stroke="#C63A41" stroke-width="0.8" />
<circle cx="1502.6" cy="1725.6" r="2.9" fill="#E54850" stroke="#C63A41" stroke-width="0.8" />
<circle cx="1611.2" cy="1629.6" r="2.9" fill="#E54850" stroke="#C63A41" stroke-width="0.8" />
<circle cx="1622.3" cy="1616.4" r="2.9" fill="#E54850" stroke="#C63A41" stroke-width="0.8" />
<circle cx="1664.1" cy="1574.4" r="2.9" fill="#E54850" stroke="#C63A41" stroke-width="0.8" />
<circle cx="1691.5" cy="1545.1" r="2.9" fill="#E54850" stroke="#C63A41" stroke-width="0.8" />
<circle cx="1692.6" cy="1546.7" r="2.9" fill="#E54850" stroke="#C63A41" stroke-width="0.8" />
<circle cx="1609.8" cy="1625.5" r="2.9" fill="#E54850" stroke="#C63A41" stroke-width="0.8" />
<circle cx="1554.0" cy="1670.8" r="2.9" fill="#E54850" stroke="#C63A41" stroke-width="0.8" />
<circle cx="1552.0" cy="1677.3" r="2.9" fill="#E54850" stroke="#C63A41" stroke-width="0.8" />
<circle cx="1675.6" cy="1564.0" r="2.9" fill="#E54850" stroke="#C63A41" stroke-width="0.8" />
<circle cx="1682.8" cy="1555.8" r="2.9" fill="#E54850" stroke="#C63A41" stroke-width="0.8" />
<circle cx="1594.1" cy="1636.4" r="2.9" fill="#E54850" stroke="#C63A41" stroke-width="0.8" />
<circle cx="1512.0" cy="1716.7" r="2.9" fill="#E54850" stroke="#C63A41" stroke-width="0.8" />
<circle cx="1545.6" cy="1682.3" r="2.9" fill="#E54850" stroke="#C63A41" stroke-width="0.8" />
<circle cx="1588.7" cy="1642.9" r="2.9" fill="#E54850" stroke="#C63A41" stroke-width="0.8" />
<circle cx="1661.1" cy="1577.4" r="2.9" fill="#E54850" stroke="#C63A41" stroke-width="0.8" />
<circle cx="1683.2" cy="1554.3" r="2.9" fill="#E54850" stroke="#C63A41" stroke-width="0.8" />
<circle cx="1617.7" cy="1620.8" r="2.9" fill="#E54850" stroke="#C63A41" stroke-width="0.8" />
<circle cx="1678.6" cy="1562.5" r="2.9" fill="#E54850" stroke="#C63A41" stroke-width="0.8" />
<circle cx="1535.1" cy="1689.8" r="2.9" fill="#E54850" stroke="#C63A41" stroke-width="0.8" />
<circle cx="1526.4" cy="1701.9" r="2.9" fill="#E54850" stroke="#C63A41" stroke-width="0.8" />
<circle cx="1542.8" cy="1678.5" r="2.9" fill="#E54850" stroke="#C63A41" stroke-width="0.8" />
<circle cx="1604.7" cy="1637.0" r="2.9" fill="#E54850" stroke="#C63A41" stroke-width="0.8" />
<circle cx="1686.8" cy="1547.7" r="2.9" fill="#E54850" stroke="#C63A41" stroke-width="0.8" />
<circle cx="1651.1" cy="1583.9" r="2.9" fill="#E54850" stroke="#C63A41" stroke-width="0.8" />
<circle cx="1595.7" cy="1642.1" r="2.9" fill="#E54850" stroke="#C63A41" stroke-width="0.8" />
<circle cx="1621.4" cy="1615.8" r="2.9" fill="#E54850" stroke="#C63A41" stroke-width="0.8" />
<circle cx="1570.0" cy="1669.6" r="2.9" fill="#E54850" stroke="#C63A41" stroke-width="0.8" />
<circle cx="1661.4" cy="1579.7" r="2.9" fill="#E54850" stroke="#C63A41" stroke-width="0.8" />
<circle cx="1586.4" cy="1649.4" r="2.9" fill="#E54850" stroke="#C63A41" stroke-width="0.8" />
<circle cx="1666.3" cy="1573.8" r="2.9" fill="#E54850" stroke="#C63A41" stroke-width="0.8" />
<circle cx="1617.8" cy="1621.4" r="2.9" fill="#E54850" stroke="#C63A41" stroke-width="0.8" />
<circle cx="1539.2" cy="1686.6" r="2.9" fill="#E54850" stroke="#C63A41" stroke-width="0.8" />
<circle cx="1606.6" cy="1624.4" r="2.9" fill="#E54850" stroke="#C63A41" stroke-width="0.8" />
<circle cx="1693.7" cy="1547.4" r="2.9" fill="#E54850" stroke="#C63A41" stroke-width="0.8" />
<circle cx="1536.6" cy="1690.1" r="2.9" fill="#E54850" stroke="#C63A41" stroke-width="0.8" />
<circle cx="1598.4" cy="1638.1" r="2.9" fill="#E54850" stroke="#C63A41" stroke-width="0.8" />
<circle cx="1649.4" cy="1586.7" r="2.9" fill="#E54850" stroke="#C63A41" stroke-width="0.8" />
<circle cx="1619.0" cy="1621.2" r="2.9" fill="#E54850" stroke="#C63A41" stroke-width="0.8" />
<circle cx="1614.2" cy="1621.1" r="2.9" fill="#E54850" stroke="#C63A41" stroke-width="0.8" />
<circle cx="1502.9" cy="1721.8" r="2.9" fill="#E54850" stroke="#C63A41" stroke-width="0.8" />
<circle cx="1632.9" cy="1605.1" r="2.9" fill="#E54850" stroke="#C63A41" stroke-width="0.8" />
<circle cx="1664.7" cy="1574.3" r="2.9" fill="#E54850" stroke="#C63A41" stroke-width="0.8" />
<circle cx="1621.1" cy="1614.1" r="2.9" fill="#E54850" stroke="#C63A41" stroke-width="0.8" />
<circle cx="1688.2" cy="1550.9" r="2.9" fill="#E54850" stroke="#C63A41" stroke-width="0.8" />
<circle cx="1521.2" cy="1706.0" r="2.9" fill="#E54850" stroke="#C63A41" stroke-width="0.8" />
<circle cx="1674.3" cy="1564.8" r="2.9" fill="#E54850" stroke="#C63A41" stroke-width="0.8" />
<circle cx="1652.0" cy="1586.4" r="2.9" fill="#E54850" stroke="#C63A41" stroke-width="0.8" />
<circle cx="1688.5" cy="1549.0" r="2.9" fill="#E54850" stroke="#C63A41" stroke-width="0.8" />
<circle cx="1497.7" cy="1728.6" r="2.9" fill="#E54850" stroke="#C63A41" stroke-width="0.8" />
<circle cx="1636.3" cy="1597.4" r="2.9" fill="#E54850" stroke="#C63A41" stroke-width="0.8" />
<circle cx="1641.6" cy="1598.0" r="2.9" fill="#E54850" stroke="#C63A41" stroke-width="0.8" />
<circle cx="1627.9" cy="1604.9" r="2.9" fill="#E54850" stroke="#C63A41" stroke-width="0.8" />
<circle cx="1566.0" cy="1668.0" r="2.9" fill="#E54850" stroke="#C63A41" stroke-width="0.8" />
<circle cx="1612.0" cy="1623.6" r="2.9" fill="#E54850" stroke="#C63A41" stroke-width="0.8" />
<circle cx="1637.3" cy="1599.0" r="2.9" fill="#E54850" stroke="#C63A41" stroke-width="0.8" />
<circle cx="1494.2" cy="1735.3" r="2.9" fill="#E54850" stroke="#C63A41" stroke-width="0.8" />
<circle cx="1606.9" cy="1630.6" r="2.9" fill="#E54850" stroke="#C63A41" stroke-width="0.8" />
<circle cx="1593.2" cy="1644.2" r="2.9" fill="#E54850" stroke="#C63A41" stroke-width="0.8" />
<circle cx="1680.6" cy="1555.7" r="2.9" fill="#E54850" stroke="#C63A41" stroke-width="0.8" />
<circle cx="1674.3" cy="1564.5" r="2.9" fill="#E54850" stroke="#C63A41" stroke-width="0.8" />
<circle cx="1682.9" cy="1554.4" r="2.9" fill="#E54850" stroke="#C63A41" stroke-width="0.8" />
<circle cx="1569.4" cy="1670.4" r="2.9" fill="#E54850" stroke="#C63A41" stroke-width="0.8" />
<circle cx="1609.0" cy="1627.9" r="2.9" fill="#E54850" stroke="#C63A41" stroke-width="0.8" />
<circle cx="1651.9" cy="1586.3" r="2.9" fill="#E54850" stroke="#C63A41" stroke-width="0.8" />
<circle cx="1619.5" cy="1617.1" r="2.9" fill="#E54850" stroke="#C63A41" stroke-width="0.8" />
<circle cx="1605.2" cy="1630.3" r="2.9" fill="#E54850" stroke="#C63A41" stroke-width="0.8" />
<circle cx="1605.7" cy="1635.5" r="2.9" fill="#E54850" stroke="#C63A41" stroke-width="0.8" />
<circle cx="1668.3" cy="1569.7" r="2.9" fill="#E54850" stroke="#C63A41" stroke-width="0.8" />
<circle cx="1560.4" cy="1674.8" r="2.9" fill="#E54850" stroke="#C63A41" stroke-width="0.8" />
<circle cx="1591.4" cy="1646.8" r="2.9" fill="#E54850" stroke="#C63A41" stroke-width="0.8" />
<circle cx="1548.2" cy="1681.2" r="2.9" fill="#E54850" stroke="#C63A41" stroke-width="0.8" />
<circle cx="1653.4" cy="1583.3" r="2.9" fill="#E54850" stroke="#C63A41" stroke-width="0.8" />
<circle cx="1568.0" cy="1665.4" r="2.9" fill="#E54850" stroke="#C63A41" stroke-width="0.8" />
<circle cx="1535.3" cy="1689.3" r="2.9" fill="#E54850" stroke="#C63A41" stroke-width="0.8" />
<circle cx="1689.5" cy="1549.0" r="2.9" fill="#E54850" stroke="#C63A41" stroke-width="0.8" />
<circle cx="1656.5" cy="1579.7" r="2.9" fill="#E54850" stroke="#C63A41" stroke-width="0.8" />
<circle cx="1566.6" cy="1669.8" r="2.9" fill="#E54850" stroke="#C63A41" stroke-width="0.8" />
<circle cx="1594.6" cy="1643.3" r="2.9" fill="#E54850" stroke="#C63A41" stroke-width="0.8" />
<circle cx="1613.8" cy="1625.6" r="2.9" fill="#E54850" stroke="#C63A41" stroke-width="0.8" />
<circle cx="1533.5" cy="1694.1" r="2.9" fill="#E54850" stroke="#C63A41" stroke-width="0.8" />
<circle cx="1661.3" cy="1574.8" r="2.9" fill="#E54850" stroke="#C63A41" stroke-width="0.8" />
<circle cx="1664.4" cy="1577.6" r="2.9" fill="#E54850" stroke="#C63A41" stroke-width="0.8" />
<circle cx="1672.7" cy="1562.2" r="2.9" fill="#E54850" stroke="#C63A41" stroke-width="0.8" />
<circle cx="1511.2" cy="1719.5" r="2.9" fill="#E54850" stroke="#C63A41" stroke-width="0.8" />
<circle cx="1546.3" cy="1678.0" r="2.9" fill="#E54850" stroke="#C63A41" stroke-width="0.8" />
<circle cx="1657.8" cy="1585.0" r="2.9" fill="#E54850" stroke="#C63A41" stroke-width="0.8" />
<circle cx="1595.1" cy="1638.7" r="2.9" fill="#E54850" stroke="#C63A41" stroke-width="0.8" />
<circle cx="1493.9" cy="1730.1" r="2.9" fill="#E54850" stroke="#C63A41" stroke-width="0.8" />
<circle cx="1650.2" cy="1589.1" r="2.9" fill="#E54850" stroke="#C63A41" stroke-width="0.8" />
<circle cx="1610.0" cy="1623.3" r="2.9" fill="#E54850" stroke="#C63A41" stroke-width="0.8" />
<circle cx="1558.8" cy="1675.1" r="2.9" fill="#E54850" stroke="#C63A41" stroke-width="0.8" />
<circle cx="1575.4" cy="1655.8" r="2.9" fill="#E54850" stroke="#C63A41" stroke-width="0.8" />
<circle cx="1680.2" cy="1558.9" r="2.9" fill="#E54850" stroke="#C63A41" stroke-width="0.8" />
<circle cx="1657.6" cy="1580.6" r="2.9" fill="#E54850" stroke="#C63A41" stroke-width="0.8" />
<circle cx="1692.1" cy="1544.4" r="2.9" fill="#E54850" stroke="#C63A41" stroke-width="0.8" />
<circle cx="1608.6" cy="1631.2" r="2.9" fill="#E54850" stroke="#C63A41" stroke-width="0.8" />
<circle cx="1663.5" cy="1573.9" r="2.9" fill="#E54850" stroke="#C63A41" stroke-width="0.8" />
<circle cx="1684.1" cy="1553.2" r="2.9" fill="#E54850" stroke="#C63A41" stroke-width="0.8" />
<circle cx="1613.6" cy="1627.8" r="2.9" fill="#E54850" stroke="#C63A41" stroke-width="0.8" />
<circle cx="1577.4" cy="1658.2" r="2.9" fill="#E54850" stroke="#C63A41" stroke-width="0.8" />
<circle cx="1560.1" cy="1674.3" r="2.9" fill="#E54850" stroke="#C63A41" stroke-width="0.8" />
<rect x="1372.9" y="1496.5" width="372.1" height="359.5" fill="none" stroke="#333" stroke-width="2" />
<line x1="1368.8" y1="1839.9" x2="1372.9" y2="1839.9" stroke="#333" stroke-width="1.8" />
<text x="1351.9" y="1846.8" font-size="22.6" fill="#4D4D4D" >0</text>
<line x1="1389.9" y1="1856.0" x2="1389.9" y2="1861.0" stroke="#333" stroke-width="1.8" />
<text x="1389.9" y="1884.4" font-size="22.6" text-anchor="middle" fill="#4D4D4D" >0</text>
<line x1="1368.8" y1="1758.2" x2="1372.9" y2="1758.2" stroke="#333" stroke-width="1.8" />
<text x="1352.0" y="1765.1" font-size="22.6" fill="#4D4D4D" >5</text>
<line x1="1474.3" y1="1856.0" x2="1474.3" y2="1861.0" stroke="#333" stroke-width="1.8" />
<text x="1474.3" y="1884.4" font-size="22.6" text-anchor="middle" fill="#4D4D4D" >5</text>
<line x1="1368.8" y1="1676.6" x2="1372.9" y2="1676.6" stroke="#333" stroke-width="1.8" />
<text x="1339.3" y="1683.2" font-size="22.6" fill="#4D4D4D" >10</text>
<line x1="1558.8" y1="1856.0" x2="1558.8" y2="1861.0" stroke="#333" stroke-width="1.8" />
<text x="1558.8" y="1884.4" font-size="22.6" text-anchor="middle" fill="#4D4D4D" >10</text>
<line x1="1368.8" y1="1594.9" x2="1372.9" y2="1594.9" stroke="#333" stroke-width="1.8" />
<text x="1339.4" y="1600.6" font-size="22.6" fill="#4D4D4D" >15</text>
<line x1="1643.2" y1="1856.0" x2="1643.2" y2="1861.0" stroke="#333" stroke-width="1.8" />
<text x="1643.2" y="1884.4" font-size="22.6" text-anchor="middle" fill="#4D4D4D" >15</text>
<line x1="1368.8" y1="1513.2" x2="1372.9" y2="1513.2" stroke="#333" stroke-width="1.8" />
<text x="1339.3" y="1518.8" font-size="22.6" fill="#4D4D4D" >20</text>
<line x1="1727.6" y1="1856.0" x2="1727.6" y2="1861.0" stroke="#333" stroke-width="1.8" />
<text x="1727.6" y="1884.4" font-size="22.6" text-anchor="middle" fill="#4D4D4D" >20</text>
<text x="1518.51" y="1920.30" font-size="30.70" textLength="91.33" lengthAdjust="spacingAndGlyphs">Young</text>
<text transform="translate(1317.60,1703.84) rotate(-90)" font-size="33.40" textLength="50.53" lengthAdjust="spacingAndGlyphs">Old</text>
</g>
<g id="pe">
<text x="0.5" y="2021.0" font-size="36" font-weight="bold" >e</text>
<rect x="303.3" y="2324.3" width="13.6" height="84.3" fill="#fff" stroke="#000" stroke-width="2.8" />
<rect x="331.3" y="2319.5" width="13.6" height="89.1" fill="#FCDCDC" stroke="#000" stroke-width="2.8" />
<rect x="377.2" y="2324.3" width="13.6" height="84.3" fill="#fff" stroke="#000" stroke-width="2.8" />
<rect x="405.2" y="2321.8" width="13.6" height="86.8" fill="#FCDCDC" stroke="#000" stroke-width="2.8" />
<rect x="451.1" y="2326.0" width="13.6" height="82.6" fill="#fff" stroke="#000" stroke-width="2.8" />
<rect x="479.1" y="2324.3" width="13.6" height="84.3" fill="#FCDCDC" stroke="#000" stroke-width="2.8" />
<rect x="525.0" y="2324.3" width="13.6" height="84.3" fill="#fff" stroke="#000" stroke-width="2.8" />
<rect x="553.0" y="2351.7" width="13.6" height="56.9" fill="#FCDCDC" stroke="#000" stroke-width="2.8" />
<rect x="598.9" y="2324.3" width="13.6" height="84.3" fill="#fff" stroke="#000" stroke-width="2.8" />
<rect x="626.9" y="2313.3" width="13.6" height="95.3" fill="#FCDCDC" stroke="#000" stroke-width="2.8" />
<rect x="672.8" y="2324.3" width="13.6" height="84.3" fill="#fff" stroke="#000" stroke-width="2.8" />
<rect x="700.8" y="2332.7" width="13.6" height="75.9" fill="#FCDCDC" stroke="#000" stroke-width="2.8" />
<rect x="746.7" y="2325.1" width="13.6" height="83.5" fill="#fff" stroke="#000" stroke-width="2.8" />
<rect x="774.7" y="2354.6" width="13.6" height="54.0" fill="#FCDCDC" stroke="#000" stroke-width="2.8" />
<rect x="820.6" y="2325.1" width="13.6" height="83.5" fill="#fff" stroke="#000" stroke-width="2.8" />
<rect x="848.6" y="2227.4" width="13.6" height="181.2" fill="#FCDCDC" stroke="#000" stroke-width="2.8" />
<rect x="894.5" y="2325.1" width="13.6" height="83.5" fill="#fff" stroke="#000" stroke-width="2.8" />
<rect x="922.5" y="2382.5" width="13.6" height="26.1" fill="#FCDCDC" stroke="#000" stroke-width="2.8" />
<line x1="338.1" y1="2298.0" x2="338.1" y2="2338.2" stroke="#A50F15" stroke-width="2.6" />
<line x1="333.1" y1="2298.0" x2="343.1" y2="2298.0" stroke="#A50F15" stroke-width="2.6" />
<line x1="333.1" y1="2338.2" x2="343.1" y2="2338.2" stroke="#A50F15" stroke-width="2.6" />
<circle cx="307.7" cy="2318.4" r="6.2" fill="#000" stroke="none" stroke-width="0" />
<circle cx="312.5" cy="2331.0" r="6.2" fill="#000" stroke="none" stroke-width="0" />
<circle cx="310.1" cy="2326.0" r="6.2" fill="#000" stroke="none" stroke-width="0" />
<rect x="330.0" y="2289.9" width="11.5" height="11.5" fill="#A50F15" stroke="none" stroke-width="0" />
<rect x="334.8" y="2318.5" width="11.5" height="11.5" fill="#A50F15" stroke="none" stroke-width="0" />
<rect x="332.4" y="2328.7" width="11.5" height="11.5" fill="#A50F15" stroke="none" stroke-width="0" />
<line x1="384.0" y1="2311.5" x2="384.0" y2="2337.7" stroke="#000" stroke-width="2.6" />
<line x1="379.0" y1="2311.5" x2="389.0" y2="2311.5" stroke="#000" stroke-width="2.6" />
<line x1="379.0" y1="2337.7" x2="389.0" y2="2337.7" stroke="#000" stroke-width="2.6" />
<line x1="412.0" y1="2293.5" x2="412.0" y2="2350.0" stroke="#A50F15" stroke-width="2.6" />
<line x1="407.0" y1="2293.5" x2="417.0" y2="2293.5" stroke="#A50F15" stroke-width="2.6" />
<line x1="407.0" y1="2350.0" x2="417.0" y2="2350.0" stroke="#A50F15" stroke-width="2.6" />
<circle cx="381.6" cy="2310.8" r="6.2" fill="#000" stroke="none" stroke-width="0" />
<circle cx="386.4" cy="2326.0" r="6.2" fill="#000" stroke="none" stroke-width="0" />
<circle cx="384.0" cy="2336.9" r="6.2" fill="#000" stroke="none" stroke-width="0" />
<rect x="403.9" y="2288.2" width="11.5" height="11.5" fill="#A50F15" stroke="none" stroke-width="0" />
<rect x="408.6" y="2315.2" width="11.5" height="11.5" fill="#A50F15" stroke="none" stroke-width="0" />
<rect x="406.2" y="2344.7" width="11.5" height="11.5" fill="#A50F15" stroke="none" stroke-width="0" />
<circle cx="455.5" cy="2318.4" r="6.2" fill="#000" stroke="none" stroke-width="0" />
<circle cx="460.3" cy="2326.8" r="6.2" fill="#000" stroke="none" stroke-width="0" />
<circle cx="457.9" cy="2326.8" r="6.2" fill="#000" stroke="none" stroke-width="0" />
<rect x="477.8" y="2313.5" width="11.5" height="11.5" fill="#A50F15" stroke="none" stroke-width="0" />
<rect x="482.6" y="2323.6" width="11.5" height="11.5" fill="#A50F15" stroke="none" stroke-width="0" />
<rect x="480.2" y="2321.1" width="11.5" height="11.5" fill="#A50F15" stroke="none" stroke-width="0" />
<circle cx="529.4" cy="2324.3" r="6.2" fill="#000" stroke="none" stroke-width="0" />
<circle cx="534.2" cy="2324.3" r="6.2" fill="#000" stroke="none" stroke-width="0" />
<circle cx="531.8" cy="2324.3" r="6.2" fill="#000" stroke="none" stroke-width="0" />
<rect x="551.7" y="2338.8" width="11.5" height="11.5" fill="#A50F15" stroke="none" stroke-width="0" />
<rect x="556.5" y="2345.9" width="11.5" height="11.5" fill="#A50F15" stroke="none" stroke-width="0" />
<rect x="554.1" y="2344.7" width="11.5" height="11.5" fill="#A50F15" stroke="none" stroke-width="0" />
<circle cx="603.3" cy="2317.6" r="6.2" fill="#000" stroke="none" stroke-width="0" />
<circle cx="608.1" cy="2327.7" r="6.2" fill="#000" stroke="none" stroke-width="0" />
<circle cx="605.7" cy="2326.8" r="6.2" fill="#000" stroke="none" stroke-width="0" />
<rect x="625.6" y="2304.2" width="11.5" height="11.5" fill="#A50F15" stroke="none" stroke-width="0" />
<rect x="630.4" y="2311.0" width="11.5" height="11.5" fill="#A50F15" stroke="none" stroke-width="0" />
<rect x="628.0" y="2307.6" width="11.5" height="11.5" fill="#A50F15" stroke="none" stroke-width="0" />
<circle cx="677.2" cy="2320.1" r="6.2" fill="#000" stroke="none" stroke-width="0" />
<circle cx="682.0" cy="2330.2" r="6.2" fill="#000" stroke="none" stroke-width="0" />
<circle cx="679.6" cy="2326.0" r="6.2" fill="#000" stroke="none" stroke-width="0" />
<rect x="699.5" y="2327.8" width="11.5" height="11.5" fill="#A50F15" stroke="none" stroke-width="0" />
<rect x="704.2" y="2327.0" width="11.5" height="11.5" fill="#A50F15" stroke="none" stroke-width="0" />
<rect x="701.9" y="2329.5" width="11.5" height="11.5" fill="#A50F15" stroke="none" stroke-width="0" />
<line x1="753.5" y1="2311.1" x2="753.5" y2="2336.4" stroke="#000" stroke-width="2.6" />
<line x1="748.5" y1="2311.1" x2="758.5" y2="2311.1" stroke="#000" stroke-width="2.6" />
<line x1="748.5" y1="2336.4" x2="758.5" y2="2336.4" stroke="#000" stroke-width="2.6" />
<line x1="781.5" y1="2335.1" x2="781.5" y2="2365.8" stroke="#A50F15" stroke-width="2.6" />
<line x1="776.5" y1="2335.1" x2="786.5" y2="2335.1" stroke="#A50F15" stroke-width="2.6" />
<line x1="776.5" y1="2365.8" x2="786.5" y2="2365.8" stroke="#A50F15" stroke-width="2.6" />
<circle cx="751.1" cy="2313.3" r="6.2" fill="#000" stroke="none" stroke-width="0" />
<circle cx="755.9" cy="2320.1" r="6.2" fill="#000" stroke="none" stroke-width="0" />
<circle cx="753.5" cy="2337.8" r="6.2" fill="#000" stroke="none" stroke-width="0" />
<rect x="773.4" y="2327.0" width="11.5" height="11.5" fill="#A50F15" stroke="none" stroke-width="0" />
<rect x="778.1" y="2353.1" width="11.5" height="11.5" fill="#A50F15" stroke="none" stroke-width="0" />
<rect x="775.8" y="2354.0" width="11.5" height="11.5" fill="#A50F15" stroke="none" stroke-width="0" />
<line x1="827.4" y1="2298.7" x2="827.4" y2="2349.9" stroke="#000" stroke-width="2.6" />
<line x1="822.4" y1="2298.7" x2="832.4" y2="2298.7" stroke="#000" stroke-width="2.6" />
<line x1="822.4" y1="2349.9" x2="832.4" y2="2349.9" stroke="#000" stroke-width="2.6" />
<line x1="855.4" y1="2117.6" x2="855.4" y2="2332.6" stroke="#A50F15" stroke-width="2.6" />
<line x1="850.4" y1="2117.6" x2="860.4" y2="2117.6" stroke="#A50F15" stroke-width="2.6" />
<line x1="850.4" y1="2332.6" x2="860.4" y2="2332.6" stroke="#A50F15" stroke-width="2.6" />
<circle cx="825.0" cy="2294.8" r="6.2" fill="#000" stroke="none" stroke-width="0" />
<circle cx="829.8" cy="2341.2" r="6.2" fill="#000" stroke="none" stroke-width="0" />
<circle cx="827.4" cy="2336.9" r="6.2" fill="#000" stroke="none" stroke-width="0" />
<rect x="847.3" y="2096.0" width="11.5" height="11.5" fill="#A50F15" stroke="none" stroke-width="0" />
<rect x="852.1" y="2268.8" width="11.5" height="11.5" fill="#A50F15" stroke="none" stroke-width="0" />
<rect x="849.7" y="2293.3" width="11.5" height="11.5" fill="#A50F15" stroke="none" stroke-width="0" />
<line x1="901.3" y1="2294.2" x2="901.3" y2="2355.5" stroke="#000" stroke-width="2.6" />
<line x1="896.3" y1="2294.2" x2="906.3" y2="2294.2" stroke="#000" stroke-width="2.6" />
<line x1="896.3" y1="2355.5" x2="906.3" y2="2355.5" stroke="#000" stroke-width="2.6" />
<line x1="929.3" y1="2359.2" x2="929.3" y2="2404.6" stroke="#A50F15" stroke-width="2.6" />
<line x1="924.3" y1="2359.2" x2="934.3" y2="2359.2" stroke="#A50F15" stroke-width="2.6" />
<line x1="924.3" y1="2404.6" x2="934.3" y2="2404.6" stroke="#A50F15" stroke-width="2.6" />
<circle cx="898.9" cy="2292.7" r="6.2" fill="#000" stroke="none" stroke-width="0" />
<circle cx="903.7" cy="2328.1" r="6.2" fill="#000" stroke="none" stroke-width="0" />
<circle cx="901.3" cy="2353.8" r="6.2" fill="#000" stroke="none" stroke-width="0" />
<rect x="921.2" y="2351.4" width="11.5" height="11.5" fill="#A50F15" stroke="none" stroke-width="0" />
<rect x="926.0" y="2380.9" width="11.5" height="11.5" fill="#A50F15" stroke="none" stroke-width="0" />
<rect x="923.6" y="2396.1" width="11.5" height="11.5" fill="#A50F15" stroke="none" stroke-width="0" />
<line x1="282.7" y1="2071.4" x2="282.7" y2="2410.0" stroke="#000" stroke-width="2.8" />
<line x1="267.8" y1="2408.6" x2="959.5" y2="2408.6" stroke="#000" stroke-width="2.8" />
<line x1="267.8" y1="2408.6" x2="282.7" y2="2408.6" stroke="#000" stroke-width="2.8" />
<text x="243.4" y="2419.9" font-size="32" >0</text>
<line x1="267.8" y1="2324.3" x2="282.7" y2="2324.3" stroke="#000" stroke-width="2.8" />
<text x="243.7" y="2335.6" font-size="32" >1</text>
<line x1="267.8" y1="2240.0" x2="282.7" y2="2240.0" stroke="#000" stroke-width="2.8" />
<text x="243.7" y="2251.3" font-size="32" >2</text>
<line x1="267.8" y1="2155.7" x2="282.7" y2="2155.7" stroke="#000" stroke-width="2.8" />
<text x="243.5" y="2167.0" font-size="32" >3</text>
<line x1="267.8" y1="2071.4" x2="282.7" y2="2071.4" stroke="#000" stroke-width="2.8" />
<text x="243.0" y="2082.7" font-size="32" >4</text>
<line x1="323.6" y1="2408.6" x2="323.6" y2="2424.2" stroke="#000" stroke-width="2.8" />
<line x1="397.5" y1="2408.6" x2="397.5" y2="2424.2" stroke="#000" stroke-width="2.8" />
<line x1="471.4" y1="2408.6" x2="471.4" y2="2424.2" stroke="#000" stroke-width="2.8" />
<line x1="545.3" y1="2408.6" x2="545.3" y2="2424.2" stroke="#000" stroke-width="2.8" />
<line x1="619.2" y1="2408.6" x2="619.2" y2="2424.2" stroke="#000" stroke-width="2.8" />
<line x1="693.1" y1="2408.6" x2="693.1" y2="2424.2" stroke="#000" stroke-width="2.8" />
<line x1="767.0" y1="2408.6" x2="767.0" y2="2424.2" stroke="#000" stroke-width="2.8" />
<line x1="840.9" y1="2408.6" x2="840.9" y2="2424.2" stroke="#000" stroke-width="2.8" />
<line x1="914.8" y1="2408.6" x2="914.8" y2="2424.2" stroke="#000" stroke-width="2.8" />
<text transform="translate(220.60,2330.91) rotate(-90)" font-size="32.40" textLength="168.57" lengthAdjust="spacingAndGlyphs">Fold change</text>
<circle cx="308.5" cy="2077.8" r="6.4" fill="#000" stroke="none" stroke-width="0" />
<rect x="303.0" y="2112.2" width="11.4" height="11.4" fill="#A50F15" stroke="none" stroke-width="0" />
<text x="374.46" y="2089.10" font-size="31.40" textLength="84.32" lengthAdjust="spacingAndGlyphs">Young</text>
<text x="373.68" y="2129.30" font-size="31.40" textLength="46.76" lengthAdjust="spacingAndGlyphs">Old</text>
<polyline points="533.7,2311.3 533.7,2299.5 562.3,2299.5 562.3,2311.3" fill="none" stroke="#000" stroke-width="2.6" stroke-linejoin="miter" />
<text transform="translate(548.5,2296.5) rotate(-60)" font-size="30"><tspan font-style="italic">P</tspan>=0.001</text>
<polyline points="606.1,2289.8 606.1,2278.0 634.3,2278.0 634.3,2289.8" fill="none" stroke="#000" stroke-width="2.6" stroke-linejoin="miter" />
<text transform="translate(620.5,2279) rotate(-60)" font-size="30"><tspan font-style="italic">P</tspan>=0.04</text>
<polyline points="681.8,2301.7 681.8,2290.6 710.0,2290.6 710.0,2301.7" fill="none" stroke="#000" stroke-width="2.6" stroke-linejoin="miter" />
<text transform="translate(696,2291.5) rotate(-60)" font-size="30"><tspan font-style="italic">P</tspan>=0.04</text>
<text transform="translate(330.0,2456.6) rotate(-45)" font-size="31.4" text-anchor="end" >3'-tRF-Leu-CAA-4_62_109</text>
<text transform="translate(403.9,2456.6) rotate(-45)" font-size="31.4" text-anchor="end" >3'-tRF-Leu-CAA-1_61_109</text>
<text transform="translate(477.8,2456.6) rotate(-45)" font-size="31.4" text-anchor="end" >3'-tRF-Tyr-GTA-2_54_74</text>
<text transform="translate(551.7,2456.6) rotate(-45)" font-size="31.4" text-anchor="end" >3'-tRF-Ser-AGA-2_35_67</text>
<text transform="translate(625.6,2456.6) rotate(-45)" font-size="31.4" text-anchor="end" >3'-tRF-Tyr-GTA-4_62_96</text>
<text transform="translate(699.5,2456.6) rotate(-45)" font-size="31.4" text-anchor="end" >3'-tRF-Tyr-GTA-1_55_74</text>
<text transform="translate(773.4,2456.6) rotate(-45)" font-size="31.4" text-anchor="end" >3'-tRF-Tyr-GTA-2_54_76</text>
<text transform="translate(847.3,2456.6) rotate(-45)" font-size="31.4" text-anchor="end" >3'-tRF-Leu-CAG-3_39_68</text>
<text transform="translate(921.2,2456.6) rotate(-45)" font-size="31.4" text-anchor="end" >3'-tRF-Tyr-GTA-3_55_80</text>
</g>
<g id="pf">
<text x="991.7" y="2032.0" font-size="36" font-weight="bold" >f</text>
<rect x="1174.3" y="2184.7" width="40.2" height="224.7" fill="#FFFFFF" stroke="#000" stroke-width="2.8" />
<rect x="1241.3" y="2258.9" width="40.2" height="150.5" fill="#FCDCDC" stroke="#000" stroke-width="2.8" />
<rect x="1308.3" y="2346.5" width="40.2" height="62.9" fill="#C4C4F6" stroke="#000" stroke-width="2.8" />
<line x1="1194.4" y1="2176.5" x2="1194.4" y2="2194.5" stroke="#000" stroke-width="2.6" />
<line x1="1184.4" y1="2176.5" x2="1204.4" y2="2176.5" stroke="#000" stroke-width="2.6" />
<line x1="1184.4" y1="2194.5" x2="1204.4" y2="2194.5" stroke="#000" stroke-width="2.6" />
<circle cx="1194.6" cy="2180.5" r="6.3" fill="#000" stroke="none" stroke-width="0" />
<circle cx="1211.7" cy="2180.0" r="6.3" fill="#000" stroke="none" stroke-width="0" />
<circle cx="1194.6" cy="2195.1" r="6.3" fill="#000" stroke="none" stroke-width="0" />
<line x1="1251.4" y1="2258.5" x2="1271.4" y2="2258.5" stroke="#A50F15" stroke-width="2.6" />
<polygon points="1245.3,2255.2 1252.3,2267.2 1238.3,2267.2" fill="#A50F15"/>
<polygon points="1261.1,2249.5 1268.1,2261.5 1254.1,2261.5" fill="#A50F15"/>
<polygon points="1277.6,2254.6 1284.6,2266.6 1270.6,2266.6" fill="#A50F15"/>
<rect x="1305.8" y="2343.3" width="12.0" height="12.0" fill="#1E1EDB" stroke="none" stroke-width="0" />
<rect x="1322.2" y="2334.7" width="12.0" height="12.0" fill="#1E1EDB" stroke="none" stroke-width="0" />
<rect x="1338.7" y="2336.0" width="12.0" height="12.0" fill="#1E1EDB" stroke="none" stroke-width="0" />
<line x1="1318.4" y1="2341.0" x2="1338.4" y2="2341.0" stroke="#1E1EDB" stroke-width="2.6" />
<line x1="1150.0" y1="2072.4" x2="1150.0" y2="2410.8" stroke="#000" stroke-width="2.8" />
<line x1="1134.5" y1="2409.4" x2="1375.0" y2="2409.4" stroke="#000" stroke-width="2.8" />
<line x1="1134.5" y1="2409.4" x2="1150.0" y2="2409.4" stroke="#000" stroke-width="2.8" />
<text x="1085.9" y="2420.2" font-size="29.5" >0.0</text>
<line x1="1134.5" y1="2297.1" x2="1150.0" y2="2297.1" stroke="#000" stroke-width="2.8" />
<text x="1086.0" y="2308.2" font-size="29.5" >0.5</text>
<line x1="1134.5" y1="2184.7" x2="1150.0" y2="2184.7" stroke="#000" stroke-width="2.8" />
<text x="1085.9" y="2196.2" font-size="29.5" >1.0</text>
<line x1="1134.5" y1="2072.4" x2="1150.0" y2="2072.4" stroke="#000" stroke-width="2.8" />
<text x="1086.0" y="2084.3" font-size="29.5" >1.5</text>
<line x1="1194.4" y1="2409.4" x2="1194.4" y2="2425.3" stroke="#000" stroke-width="2.8" />
<line x1="1261.4" y1="2409.4" x2="1261.4" y2="2425.3" stroke="#000" stroke-width="2.8" />
<line x1="1328.4" y1="2409.4" x2="1328.4" y2="2425.3" stroke="#000" stroke-width="2.8" />
<text transform="translate(1071.40,2479.20) rotate(-90)" font-size="32.00" textLength="458.87" lengthAdjust="spacingAndGlyphs">Fold change of 3'-tiRNA-Leu-CAG</text>
<polyline points="1191.0,2161.5 1191.0,2132.0 1250.4,2132.0 1250.4,2140.9" fill="none" stroke="#000" stroke-width="2.6" stroke-linejoin="miter" />
<polyline points="1196.3,2161.5 1196.3,2144.4 1326.2,2144.4 1326.2,2249.6" fill="none" stroke="#000" stroke-width="2.6" stroke-linejoin="miter" />
<text transform="translate(1201,2125.5) rotate(-39)" font-size="31.5"><tspan font-style="italic">P</tspan>=0.0002</text>
<text transform="translate(1269.5,2141.5) rotate(-39)" font-size="31.5"><tspan font-style="italic">P</tspan>=1.1×10<tspan dy="-13" font-size="23">-5</tspan></text>
<text transform="translate(1202,2456) rotate(-45)" font-size="31" text-anchor="end">shCon</text>
<text transform="translate(1268,2456) rotate(-45)" font-size="31" text-anchor="end">sh<tspan font-style="italic">Trmt6</tspan></text>
<text transform="translate(1335,2456) rotate(-45)" font-size="31" text-anchor="end">sh<tspan font-style="italic">Trmt61a</tspan></text>
</g>
</svg></body></html>
